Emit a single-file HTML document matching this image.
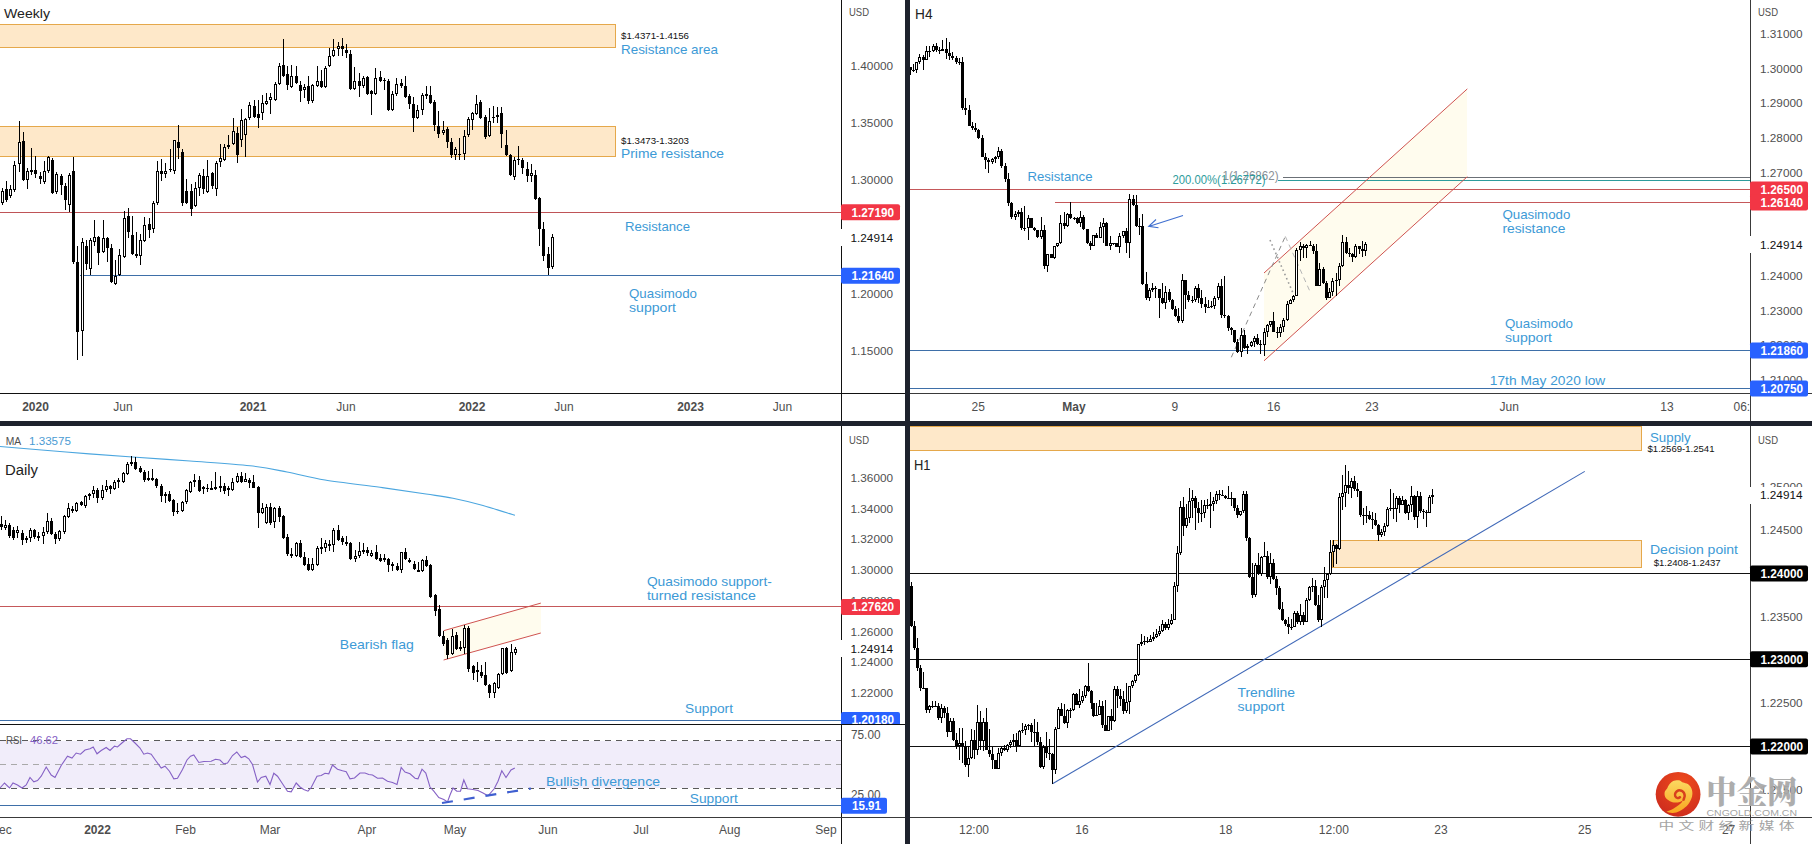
<!DOCTYPE html>
<html lang="en"><head><meta charset="utf-8"><title>GBP/USD multi-timeframe chart</title>
<style>html,body{margin:0;padding:0;background:#fff}body{width:1812px;height:844px;overflow:hidden}svg{display:block}text{white-space:pre}</style></head>
<body>
<svg width="1812" height="844" viewBox="0 0 1812 844" font-family='"Liberation Sans", sans-serif' shape-rendering="crispEdges">
<rect x="0" y="0" width="1812" height="844" fill="#fff" />
<g id="tl">
<rect x="0" y="24" width="616" height="24" fill="#fee8c9" />
<rect x="0" y="24" width="616" height="1" fill="#e5a84b" />
<rect x="0" y="47" width="616" height="1" fill="#e5a84b" />
<rect x="615" y="24" width="1" height="24" fill="#e5a84b" />
<rect x="0" y="126" width="616" height="31" fill="#fee8c9" />
<rect x="0" y="126" width="616" height="1" fill="#e5a84b" />
<rect x="0" y="156" width="616" height="1" fill="#e5a84b" />
<rect x="615" y="126" width="1" height="31" fill="#e5a84b" />
<rect x="0" y="211.5" width="841" height="1" fill="#bf5457" />
<rect x="80" y="274.5" width="761" height="1" fill="#3e6fa8" />
<rect x="2" y="188" width="1" height="17" fill="#000" />
<rect x="1" y="191" width="3" height="12" fill="#000" />
<rect x="2" y="192" width="1" height="10" fill="#fff" />
<rect x="6" y="181" width="1" height="21" fill="#000" />
<rect x="5" y="189" width="3" height="11" fill="#000" />
<rect x="10" y="185" width="1" height="13" fill="#000" />
<rect x="9" y="189" width="3" height="7" fill="#000" />
<rect x="10" y="190" width="1" height="5" fill="#fff" />
<rect x="14" y="161" width="1" height="31" fill="#000" />
<rect x="13" y="165" width="3" height="25" fill="#000" />
<rect x="14" y="166" width="1" height="23" fill="#fff" />
<rect x="19" y="121" width="1" height="51" fill="#000" />
<rect x="18" y="142" width="3" height="22" fill="#000" />
<rect x="19" y="143" width="1" height="20" fill="#fff" />
<rect x="23" y="132" width="1" height="49" fill="#000" />
<rect x="22" y="141" width="3" height="39" fill="#000" />
<rect x="27" y="168" width="1" height="21" fill="#000" />
<rect x="26" y="171" width="3" height="9" fill="#000" />
<rect x="27" y="172" width="1" height="7" fill="#fff" />
<rect x="31" y="148" width="1" height="27" fill="#000" />
<rect x="30" y="170" width="3" height="2" fill="#000" />
<rect x="35" y="156" width="1" height="22" fill="#000" />
<rect x="34" y="170" width="3" height="4" fill="#000" />
<rect x="40" y="172" width="1" height="12" fill="#000" />
<rect x="39" y="176" width="3" height="3" fill="#000" />
<rect x="44" y="161" width="1" height="23" fill="#000" />
<rect x="43" y="171" width="3" height="11" fill="#000" />
<rect x="44" y="172" width="1" height="9" fill="#fff" />
<rect x="48" y="156" width="1" height="17" fill="#000" />
<rect x="47" y="157" width="3" height="14" fill="#000" />
<rect x="48" y="158" width="1" height="12" fill="#fff" />
<rect x="52" y="158" width="1" height="36" fill="#000" />
<rect x="51" y="160" width="3" height="33" fill="#000" />
<rect x="56" y="172" width="1" height="22" fill="#000" />
<rect x="55" y="174" width="3" height="18" fill="#000" />
<rect x="56" y="175" width="1" height="16" fill="#fff" />
<rect x="61" y="174" width="1" height="21" fill="#000" />
<rect x="60" y="176" width="3" height="9" fill="#000" />
<rect x="65" y="183" width="1" height="27" fill="#000" />
<rect x="64" y="186" width="3" height="14" fill="#000" />
<rect x="69" y="173" width="1" height="39" fill="#000" />
<rect x="68" y="175" width="3" height="30" fill="#000" />
<rect x="69" y="176" width="1" height="28" fill="#fff" />
<rect x="73" y="157" width="1" height="107" fill="#000" />
<rect x="72" y="171" width="3" height="91" fill="#000" />
<rect x="77" y="246" width="1" height="114" fill="#000" />
<rect x="76" y="262" width="3" height="70" fill="#000" />
<rect x="82" y="238" width="1" height="118" fill="#000" />
<rect x="81" y="242" width="3" height="89" fill="#000" />
<rect x="82" y="243" width="1" height="87" fill="#fff" />
<rect x="86" y="240" width="1" height="30" fill="#000" />
<rect x="85" y="246" width="3" height="18" fill="#000" />
<rect x="90" y="238" width="1" height="37" fill="#000" />
<rect x="89" y="240" width="3" height="29" fill="#000" />
<rect x="90" y="241" width="1" height="27" fill="#fff" />
<rect x="94" y="220" width="1" height="26" fill="#000" />
<rect x="93" y="237" width="3" height="5" fill="#000" />
<rect x="94" y="238" width="1" height="3" fill="#fff" />
<rect x="98" y="236" width="1" height="29" fill="#000" />
<rect x="97" y="237" width="3" height="16" fill="#000" />
<rect x="103" y="220" width="1" height="33" fill="#000" />
<rect x="102" y="238" width="3" height="14" fill="#000" />
<rect x="103" y="239" width="1" height="12" fill="#fff" />
<rect x="107" y="237" width="1" height="25" fill="#000" />
<rect x="106" y="238" width="3" height="10" fill="#000" />
<rect x="111" y="244" width="1" height="39" fill="#000" />
<rect x="110" y="248" width="3" height="34" fill="#000" />
<rect x="115" y="260" width="1" height="25" fill="#000" />
<rect x="114" y="276" width="3" height="8" fill="#000" />
<rect x="115" y="277" width="1" height="6" fill="#fff" />
<rect x="119" y="249" width="1" height="27" fill="#000" />
<rect x="118" y="255" width="3" height="20" fill="#000" />
<rect x="119" y="256" width="1" height="18" fill="#fff" />
<rect x="124" y="211" width="1" height="47" fill="#000" />
<rect x="123" y="218" width="3" height="39" fill="#000" />
<rect x="124" y="219" width="1" height="37" fill="#fff" />
<rect x="128" y="208" width="1" height="30" fill="#000" />
<rect x="127" y="216" width="3" height="16" fill="#000" />
<rect x="132" y="216" width="1" height="39" fill="#000" />
<rect x="131" y="235" width="3" height="19" fill="#000" />
<rect x="136" y="232" width="1" height="26" fill="#000" />
<rect x="135" y="254" width="3" height="2" fill="#000" />
<rect x="140" y="234" width="1" height="31" fill="#000" />
<rect x="139" y="240" width="3" height="16" fill="#000" />
<rect x="140" y="241" width="1" height="14" fill="#fff" />
<rect x="144" y="217" width="1" height="25" fill="#000" />
<rect x="143" y="225" width="3" height="16" fill="#000" />
<rect x="144" y="226" width="1" height="14" fill="#fff" />
<rect x="149" y="218" width="1" height="20" fill="#000" />
<rect x="148" y="224" width="3" height="6" fill="#000" />
<rect x="153" y="201" width="1" height="32" fill="#000" />
<rect x="152" y="203" width="3" height="26" fill="#000" />
<rect x="153" y="204" width="1" height="24" fill="#fff" />
<rect x="157" y="161" width="1" height="44" fill="#000" />
<rect x="156" y="171" width="3" height="32" fill="#000" />
<rect x="157" y="172" width="1" height="30" fill="#fff" />
<rect x="161" y="159" width="1" height="22" fill="#000" />
<rect x="160" y="171" width="3" height="3" fill="#000" />
<rect x="165" y="163" width="1" height="15" fill="#000" />
<rect x="164" y="171" width="3" height="3" fill="#000" />
<rect x="165" y="172" width="1" height="1" fill="#fff" />
<rect x="170" y="149" width="1" height="23" fill="#000" />
<rect x="169" y="169" width="3" height="1" fill="#000" />
<rect x="174" y="140" width="1" height="34" fill="#000" />
<rect x="173" y="140" width="3" height="31" fill="#000" />
<rect x="174" y="141" width="1" height="29" fill="#fff" />
<rect x="178" y="125" width="1" height="34" fill="#000" />
<rect x="177" y="142" width="3" height="6" fill="#000" />
<rect x="182" y="149" width="1" height="57" fill="#000" />
<rect x="181" y="152" width="3" height="51" fill="#000" />
<rect x="186" y="179" width="1" height="25" fill="#000" />
<rect x="185" y="191" width="3" height="12" fill="#000" />
<rect x="191" y="184" width="1" height="32" fill="#000" />
<rect x="190" y="191" width="3" height="18" fill="#000" />
<rect x="195" y="182" width="1" height="25" fill="#000" />
<rect x="194" y="188" width="3" height="18" fill="#000" />
<rect x="195" y="189" width="1" height="16" fill="#fff" />
<rect x="199" y="173" width="1" height="23" fill="#000" />
<rect x="198" y="175" width="3" height="13" fill="#000" />
<rect x="199" y="176" width="1" height="11" fill="#fff" />
<rect x="203" y="169" width="1" height="25" fill="#000" />
<rect x="202" y="176" width="3" height="13" fill="#000" />
<rect x="207" y="160" width="1" height="33" fill="#000" />
<rect x="206" y="176" width="3" height="16" fill="#000" />
<rect x="207" y="177" width="1" height="14" fill="#fff" />
<rect x="212" y="172" width="1" height="17" fill="#000" />
<rect x="211" y="173" width="3" height="13" fill="#000" />
<rect x="216" y="161" width="1" height="35" fill="#000" />
<rect x="215" y="163" width="3" height="26" fill="#000" />
<rect x="216" y="164" width="1" height="24" fill="#fff" />
<rect x="220" y="144" width="1" height="23" fill="#000" />
<rect x="219" y="158" width="3" height="4" fill="#000" />
<rect x="220" y="159" width="1" height="2" fill="#fff" />
<rect x="224" y="144" width="1" height="17" fill="#000" />
<rect x="223" y="147" width="3" height="13" fill="#000" />
<rect x="224" y="148" width="1" height="11" fill="#fff" />
<rect x="228" y="135" width="1" height="14" fill="#000" />
<rect x="227" y="145" width="3" height="2" fill="#000" />
<rect x="233" y="118" width="1" height="27" fill="#000" />
<rect x="232" y="131" width="3" height="13" fill="#000" />
<rect x="233" y="132" width="1" height="11" fill="#fff" />
<rect x="237" y="127" width="1" height="36" fill="#000" />
<rect x="236" y="133" width="3" height="22" fill="#000" />
<rect x="241" y="109" width="1" height="38" fill="#000" />
<rect x="240" y="120" width="3" height="20" fill="#000" />
<rect x="241" y="121" width="1" height="18" fill="#fff" />
<rect x="245" y="118" width="1" height="39" fill="#000" />
<rect x="244" y="119" width="3" height="16" fill="#000" />
<rect x="245" y="120" width="1" height="14" fill="#fff" />
<rect x="249" y="102" width="1" height="18" fill="#000" />
<rect x="248" y="105" width="3" height="13" fill="#000" />
<rect x="249" y="106" width="1" height="11" fill="#fff" />
<rect x="254" y="100" width="1" height="18" fill="#000" />
<rect x="253" y="106" width="3" height="11" fill="#000" />
<rect x="258" y="100" width="1" height="28" fill="#000" />
<rect x="257" y="114" width="3" height="4" fill="#000" />
<rect x="262" y="95" width="1" height="25" fill="#000" />
<rect x="261" y="103" width="3" height="10" fill="#000" />
<rect x="262" y="104" width="1" height="8" fill="#fff" />
<rect x="266" y="93" width="1" height="12" fill="#000" />
<rect x="265" y="101" width="3" height="3" fill="#000" />
<rect x="266" y="102" width="1" height="1" fill="#fff" />
<rect x="270" y="93" width="1" height="21" fill="#000" />
<rect x="269" y="97" width="3" height="3" fill="#000" />
<rect x="270" y="98" width="1" height="1" fill="#fff" />
<rect x="275" y="82" width="1" height="19" fill="#000" />
<rect x="274" y="84" width="3" height="16" fill="#000" />
<rect x="275" y="85" width="1" height="14" fill="#fff" />
<rect x="279" y="63" width="1" height="22" fill="#000" />
<rect x="278" y="66" width="3" height="18" fill="#000" />
<rect x="279" y="67" width="1" height="16" fill="#fff" />
<rect x="283" y="39" width="1" height="38" fill="#000" />
<rect x="282" y="65" width="3" height="11" fill="#000" />
<rect x="287" y="66" width="1" height="24" fill="#000" />
<rect x="286" y="74" width="3" height="11" fill="#000" />
<rect x="291" y="65" width="1" height="23" fill="#000" />
<rect x="290" y="76" width="3" height="11" fill="#000" />
<rect x="291" y="77" width="1" height="9" fill="#fff" />
<rect x="296" y="66" width="1" height="18" fill="#000" />
<rect x="295" y="76" width="3" height="7" fill="#000" />
<rect x="300" y="81" width="1" height="21" fill="#000" />
<rect x="299" y="85" width="3" height="6" fill="#000" />
<rect x="304" y="84" width="1" height="14" fill="#000" />
<rect x="303" y="87" width="3" height="3" fill="#000" />
<rect x="304" y="88" width="1" height="1" fill="#fff" />
<rect x="308" y="76" width="1" height="28" fill="#000" />
<rect x="307" y="86" width="3" height="15" fill="#000" />
<rect x="312" y="84" width="1" height="19" fill="#000" />
<rect x="311" y="85" width="3" height="16" fill="#000" />
<rect x="312" y="86" width="1" height="14" fill="#fff" />
<rect x="317" y="66" width="1" height="21" fill="#000" />
<rect x="316" y="81" width="3" height="5" fill="#000" />
<rect x="317" y="82" width="1" height="3" fill="#fff" />
<rect x="321" y="70" width="1" height="18" fill="#000" />
<rect x="320" y="81" width="3" height="6" fill="#000" />
<rect x="325" y="66" width="1" height="22" fill="#000" />
<rect x="324" y="68" width="3" height="19" fill="#000" />
<rect x="325" y="69" width="1" height="17" fill="#fff" />
<rect x="329" y="48" width="1" height="19" fill="#000" />
<rect x="328" y="56" width="3" height="10" fill="#000" />
<rect x="329" y="57" width="1" height="8" fill="#fff" />
<rect x="333" y="39" width="1" height="18" fill="#000" />
<rect x="332" y="50" width="3" height="6" fill="#000" />
<rect x="333" y="51" width="1" height="4" fill="#fff" />
<rect x="338" y="42" width="1" height="14" fill="#000" />
<rect x="337" y="46" width="3" height="3" fill="#000" />
<rect x="338" y="47" width="1" height="1" fill="#fff" />
<rect x="342" y="38" width="1" height="18" fill="#000" />
<rect x="341" y="46" width="3" height="3" fill="#000" />
<rect x="346" y="44" width="1" height="14" fill="#000" />
<rect x="345" y="50" width="3" height="3" fill="#000" />
<rect x="350" y="50" width="1" height="40" fill="#000" />
<rect x="349" y="54" width="3" height="35" fill="#000" />
<rect x="354" y="67" width="1" height="23" fill="#000" />
<rect x="353" y="81" width="3" height="8" fill="#000" />
<rect x="354" y="82" width="1" height="6" fill="#fff" />
<rect x="359" y="73" width="1" height="24" fill="#000" />
<rect x="358" y="81" width="3" height="5" fill="#000" />
<rect x="363" y="76" width="1" height="12" fill="#000" />
<rect x="362" y="78" width="3" height="8" fill="#000" />
<rect x="363" y="79" width="1" height="6" fill="#fff" />
<rect x="367" y="76" width="1" height="19" fill="#000" />
<rect x="366" y="77" width="3" height="17" fill="#000" />
<rect x="371" y="90" width="1" height="25" fill="#000" />
<rect x="370" y="91" width="3" height="3" fill="#000" />
<rect x="375" y="68" width="1" height="27" fill="#000" />
<rect x="374" y="78" width="3" height="16" fill="#000" />
<rect x="375" y="79" width="1" height="14" fill="#fff" />
<rect x="380" y="71" width="1" height="11" fill="#000" />
<rect x="379" y="77" width="3" height="4" fill="#000" />
<rect x="384" y="78" width="1" height="12" fill="#000" />
<rect x="383" y="80" width="3" height="1" fill="#000" />
<rect x="388" y="79" width="1" height="32" fill="#000" />
<rect x="387" y="81" width="3" height="29" fill="#000" />
<rect x="392" y="91" width="1" height="20" fill="#000" />
<rect x="391" y="94" width="3" height="16" fill="#000" />
<rect x="392" y="95" width="1" height="14" fill="#fff" />
<rect x="396" y="78" width="1" height="18" fill="#000" />
<rect x="395" y="84" width="3" height="10" fill="#000" />
<rect x="396" y="85" width="1" height="8" fill="#fff" />
<rect x="401" y="79" width="1" height="9" fill="#000" />
<rect x="400" y="83" width="3" height="3" fill="#000" />
<rect x="405" y="76" width="1" height="22" fill="#000" />
<rect x="404" y="86" width="3" height="11" fill="#000" />
<rect x="409" y="94" width="1" height="15" fill="#000" />
<rect x="408" y="96" width="3" height="8" fill="#000" />
<rect x="413" y="97" width="1" height="35" fill="#000" />
<rect x="412" y="104" width="3" height="14" fill="#000" />
<rect x="417" y="105" width="1" height="14" fill="#000" />
<rect x="416" y="110" width="3" height="8" fill="#000" />
<rect x="417" y="111" width="1" height="6" fill="#fff" />
<rect x="422" y="93" width="1" height="22" fill="#000" />
<rect x="421" y="95" width="3" height="15" fill="#000" />
<rect x="422" y="96" width="1" height="13" fill="#fff" />
<rect x="426" y="86" width="1" height="13" fill="#000" />
<rect x="425" y="94" width="3" height="2" fill="#000" />
<rect x="430" y="86" width="1" height="18" fill="#000" />
<rect x="429" y="95" width="3" height="8" fill="#000" />
<rect x="434" y="100" width="1" height="31" fill="#000" />
<rect x="433" y="102" width="3" height="23" fill="#000" />
<rect x="438" y="111" width="1" height="27" fill="#000" />
<rect x="437" y="126" width="3" height="8" fill="#000" />
<rect x="443" y="121" width="1" height="14" fill="#000" />
<rect x="442" y="130" width="3" height="3" fill="#000" />
<rect x="443" y="131" width="1" height="1" fill="#fff" />
<rect x="447" y="127" width="1" height="21" fill="#000" />
<rect x="446" y="129" width="3" height="13" fill="#000" />
<rect x="451" y="138" width="1" height="20" fill="#000" />
<rect x="450" y="142" width="3" height="13" fill="#000" />
<rect x="455" y="147" width="1" height="13" fill="#000" />
<rect x="454" y="149" width="3" height="6" fill="#000" />
<rect x="455" y="150" width="1" height="4" fill="#fff" />
<rect x="459" y="138" width="1" height="22" fill="#000" />
<rect x="458" y="154" width="3" height="1" fill="#000" />
<rect x="464" y="130" width="1" height="30" fill="#000" />
<rect x="463" y="136" width="3" height="18" fill="#000" />
<rect x="464" y="137" width="1" height="16" fill="#fff" />
<rect x="468" y="117" width="1" height="20" fill="#000" />
<rect x="467" y="119" width="3" height="16" fill="#000" />
<rect x="468" y="120" width="1" height="14" fill="#fff" />
<rect x="472" y="112" width="1" height="18" fill="#000" />
<rect x="471" y="113" width="3" height="7" fill="#000" />
<rect x="472" y="114" width="1" height="5" fill="#fff" />
<rect x="476" y="95" width="1" height="20" fill="#000" />
<rect x="475" y="104" width="3" height="10" fill="#000" />
<rect x="476" y="105" width="1" height="8" fill="#fff" />
<rect x="480" y="100" width="1" height="19" fill="#000" />
<rect x="479" y="102" width="3" height="16" fill="#000" />
<rect x="485" y="115" width="1" height="24" fill="#000" />
<rect x="484" y="117" width="3" height="20" fill="#000" />
<rect x="489" y="108" width="1" height="29" fill="#000" />
<rect x="488" y="121" width="3" height="15" fill="#000" />
<rect x="489" y="122" width="1" height="13" fill="#fff" />
<rect x="493" y="106" width="1" height="17" fill="#000" />
<rect x="492" y="117" width="3" height="1" fill="#000" />
<rect x="497" y="107" width="1" height="16" fill="#000" />
<rect x="496" y="115" width="3" height="2" fill="#000" />
<rect x="501" y="107" width="1" height="41" fill="#000" />
<rect x="500" y="113" width="3" height="21" fill="#000" />
<rect x="506" y="130" width="1" height="26" fill="#000" />
<rect x="505" y="145" width="3" height="10" fill="#000" />
<rect x="510" y="154" width="1" height="22" fill="#000" />
<rect x="509" y="155" width="3" height="20" fill="#000" />
<rect x="514" y="157" width="1" height="23" fill="#000" />
<rect x="513" y="160" width="3" height="17" fill="#000" />
<rect x="514" y="161" width="1" height="15" fill="#fff" />
<rect x="518" y="146" width="1" height="19" fill="#000" />
<rect x="517" y="159" width="3" height="1" fill="#000" />
<rect x="522" y="158" width="1" height="16" fill="#000" />
<rect x="521" y="160" width="3" height="8" fill="#000" />
<rect x="527" y="162" width="1" height="20" fill="#000" />
<rect x="526" y="169" width="3" height="7" fill="#000" />
<rect x="531" y="164" width="1" height="18" fill="#000" />
<rect x="530" y="173" width="3" height="3" fill="#000" />
<rect x="531" y="174" width="1" height="1" fill="#fff" />
<rect x="535" y="170" width="1" height="30" fill="#000" />
<rect x="534" y="175" width="3" height="24" fill="#000" />
<rect x="539" y="197" width="1" height="49" fill="#000" />
<rect x="538" y="198" width="3" height="31" fill="#000" />
<rect x="543" y="222" width="1" height="39" fill="#000" />
<rect x="542" y="229" width="3" height="27" fill="#000" />
<rect x="548" y="247" width="1" height="28" fill="#000" />
<rect x="547" y="254" width="3" height="14" fill="#000" />
<rect x="552" y="234" width="1" height="35" fill="#000" />
<rect x="551" y="237" width="3" height="30" fill="#000" />
<rect x="552" y="238" width="1" height="28" fill="#fff" />
<text x="621" y="38.6" font-size="9.5" fill="#111" font-weight="normal" text-anchor="start" textLength="68" lengthAdjust="spacingAndGlyphs" >$1.4371-1.4156</text>
<text x="621" y="53.6" font-size="13" fill="#3d9ad6" font-weight="normal" text-anchor="start" textLength="97" lengthAdjust="spacingAndGlyphs" >Resistance area</text>
<text x="621" y="143.8" font-size="9.5" fill="#111" font-weight="normal" text-anchor="start" textLength="68" lengthAdjust="spacingAndGlyphs" >$1.3473-1.3203</text>
<text x="621" y="158" font-size="13" fill="#3d9ad6" font-weight="normal" text-anchor="start" textLength="103" lengthAdjust="spacingAndGlyphs" >Prime resistance</text>
<text x="625" y="231" font-size="13" fill="#3d9ad6" font-weight="normal" text-anchor="start" textLength="65" lengthAdjust="spacingAndGlyphs" >Resistance</text>
<text x="629" y="298" font-size="13" fill="#3d9ad6" font-weight="normal" text-anchor="start" textLength="68" lengthAdjust="spacingAndGlyphs" >Quasimodo</text>
<text x="629" y="312" font-size="13" fill="#3d9ad6" font-weight="normal" text-anchor="start" textLength="47" lengthAdjust="spacingAndGlyphs" >support</text>
<text x="4" y="18" font-size="13.5" fill="#222" font-weight="normal" text-anchor="start" textLength="46" lengthAdjust="spacingAndGlyphs" >Weekly</text>
</g>
<rect x="841" y="0" width="1" height="421" fill="#111" />
<rect x="0" y="392.8" width="905" height="1.4" fill="#111" />
<text x="849" y="15.5" font-size="11" fill="#4f4f4f" font-weight="normal" text-anchor="start" textLength="20" lengthAdjust="spacingAndGlyphs" >USD</text>
<text x="850.5" y="69.6" font-size="11.5" fill="#4f4f4f" font-weight="normal" text-anchor="start" textLength="42.5" lengthAdjust="spacingAndGlyphs" >1.40000</text>
<text x="850.5" y="126.6" font-size="11.5" fill="#4f4f4f" font-weight="normal" text-anchor="start" textLength="42.5" lengthAdjust="spacingAndGlyphs" >1.35000</text>
<text x="850.5" y="183.6" font-size="11.5" fill="#4f4f4f" font-weight="normal" text-anchor="start" textLength="42.5" lengthAdjust="spacingAndGlyphs" >1.30000</text>
<text x="850.5" y="297.6" font-size="11.5" fill="#4f4f4f" font-weight="normal" text-anchor="start" textLength="42.5" lengthAdjust="spacingAndGlyphs" >1.20000</text>
<text x="850.5" y="354.6" font-size="11.5" fill="#4f4f4f" font-weight="normal" text-anchor="start" textLength="42.5" lengthAdjust="spacingAndGlyphs" >1.15000</text>
<rect x="841" y="204.3" width="59" height="16" rx="2" ry="2" fill="#f23645" shape-rendering="auto"/>
<text x="851.5" y="216.6" font-size="12" fill="#fff" font-weight="bold" text-anchor="start" textLength="42.5" lengthAdjust="spacingAndGlyphs" >1.27190</text>
<rect x="839" y="229.2" width="62" height="17" fill="#fff" />
<text x="850.5" y="241.8" font-size="11.5" fill="#111" font-weight="normal" text-anchor="start" textLength="42.5" lengthAdjust="spacingAndGlyphs" >1.24914</text>
<rect x="841" y="267.8" width="59" height="16" rx="2" ry="2" fill="#2962ff" shape-rendering="auto"/>
<text x="851.5" y="280.1" font-size="12" fill="#fff" font-weight="bold" text-anchor="start" textLength="42.5" lengthAdjust="spacingAndGlyphs" >1.21640</text>
<text x="35.5" y="411" font-size="12" fill="#4d4d4d" font-weight="bold" text-anchor="middle" >2020</text>
<text x="123" y="411" font-size="12" fill="#4f4f4f" font-weight="normal" text-anchor="middle" >Jun</text>
<text x="253" y="411" font-size="12" fill="#4d4d4d" font-weight="bold" text-anchor="middle" >2021</text>
<text x="346" y="411" font-size="12" fill="#4f4f4f" font-weight="normal" text-anchor="middle" >Jun</text>
<text x="472" y="411" font-size="12" fill="#4d4d4d" font-weight="bold" text-anchor="middle" >2022</text>
<text x="564" y="411" font-size="12" fill="#4f4f4f" font-weight="normal" text-anchor="middle" >Jun</text>
<text x="690.5" y="411" font-size="12" fill="#4d4d4d" font-weight="bold" text-anchor="middle" >2023</text>
<text x="782.5" y="411" font-size="12" fill="#4f4f4f" font-weight="normal" text-anchor="middle" >Jun</text>
<g id="tr">
<polygon points="1264,273 1467.3,88.9 1467.3,176.7 1264,360.8" fill="#fffcee"/>
<rect x="1283" y="176.9" width="467" height="1" fill="#6b7076" />
<rect x="1278" y="179.9" width="472" height="1" fill="#2d9c9c" />
<rect x="910" y="189.4" width="840" height="1" fill="#c5585a" />
<rect x="1054.5" y="201.8" width="695.5" height="1" fill="#c5585a" />
<rect x="910" y="350.1" width="840" height="1" fill="#3e6fa8" />
<rect x="910" y="388.3" width="840" height="1" fill="#3e6fa8" />
<line x1="1264" y1="273" x2="1467.3" y2="88.9" stroke="#cf5350" stroke-width="1" shape-rendering="auto"/>
<line x1="1264" y1="360.8" x2="1467.3" y2="176.7" stroke="#cf5350" stroke-width="1" shape-rendering="auto"/>
<line x1="1231.3" y1="357.3" x2="1285.3" y2="236.4" stroke="#8a8a8a" stroke-width="1" stroke-dasharray="5 4" shape-rendering="auto"/>
<line x1="1285.3" y1="236.4" x2="1310" y2="291.5" stroke="#b5b5b5" stroke-width="1" stroke-dasharray="5 4" shape-rendering="auto"/>
<line x1="1270" y1="240" x2="1293" y2="293" stroke="#9a9a9a" stroke-width="1.6" stroke-dasharray="1.6 3" shape-rendering="auto"/>
<rect x="910" y="67" width="1" height="8" fill="#000" />
<rect x="909" y="67" width="3" height="3" fill="#000" />
<rect x="913" y="64" width="1" height="8" fill="#000" />
<rect x="912" y="70" width="3" height="1" fill="#000" />
<rect x="916" y="62" width="1" height="11" fill="#000" />
<rect x="915" y="62" width="3" height="8" fill="#000" />
<rect x="916" y="63" width="1" height="6" fill="#fff" />
<rect x="919" y="54" width="1" height="10" fill="#000" />
<rect x="918" y="57" width="3" height="5" fill="#000" />
<rect x="919" y="58" width="1" height="3" fill="#fff" />
<rect x="923" y="55" width="1" height="15" fill="#000" />
<rect x="922" y="57" width="3" height="3" fill="#000" />
<rect x="926" y="46" width="1" height="14" fill="#000" />
<rect x="925" y="51" width="3" height="9" fill="#000" />
<rect x="926" y="52" width="1" height="7" fill="#fff" />
<rect x="929" y="46" width="1" height="11" fill="#000" />
<rect x="928" y="51" width="3" height="1" fill="#000" />
<rect x="933" y="44" width="1" height="8" fill="#000" />
<rect x="932" y="46" width="3" height="5" fill="#000" />
<rect x="933" y="47" width="1" height="3" fill="#fff" />
<rect x="936" y="43" width="1" height="9" fill="#000" />
<rect x="935" y="46" width="3" height="4" fill="#000" />
<rect x="939" y="47" width="1" height="7" fill="#000" />
<rect x="938" y="50" width="3" height="1" fill="#000" />
<rect x="942" y="40" width="1" height="11" fill="#000" />
<rect x="941" y="49" width="3" height="2" fill="#000" />
<rect x="946" y="38" width="1" height="21" fill="#000" />
<rect x="945" y="49" width="3" height="4" fill="#000" />
<rect x="949" y="42" width="1" height="18" fill="#000" />
<rect x="948" y="53" width="3" height="3" fill="#000" />
<rect x="952" y="52" width="1" height="8" fill="#000" />
<rect x="951" y="56" width="3" height="2" fill="#000" />
<rect x="956" y="56" width="1" height="8" fill="#000" />
<rect x="955" y="58" width="3" height="4" fill="#000" />
<rect x="959" y="58" width="1" height="7" fill="#000" />
<rect x="958" y="62" width="3" height="1" fill="#000" />
<rect x="962" y="57" width="1" height="53" fill="#000" />
<rect x="961" y="62" width="3" height="46" fill="#000" />
<rect x="965" y="98" width="1" height="17" fill="#000" />
<rect x="964" y="108" width="3" height="2" fill="#000" />
<rect x="969" y="105" width="1" height="21" fill="#000" />
<rect x="968" y="110" width="3" height="16" fill="#000" />
<rect x="972" y="122" width="1" height="8" fill="#000" />
<rect x="971" y="126" width="3" height="2" fill="#000" />
<rect x="975" y="123" width="1" height="9" fill="#000" />
<rect x="974" y="128" width="3" height="2" fill="#000" />
<rect x="978" y="129" width="1" height="10" fill="#000" />
<rect x="977" y="130" width="3" height="8" fill="#000" />
<rect x="982" y="135" width="1" height="22" fill="#000" />
<rect x="981" y="138" width="3" height="19" fill="#000" />
<rect x="985" y="153" width="1" height="16" fill="#000" />
<rect x="984" y="157" width="3" height="3" fill="#000" />
<rect x="988" y="158" width="1" height="15" fill="#000" />
<rect x="987" y="160" width="3" height="2" fill="#000" />
<rect x="992" y="158" width="1" height="6" fill="#000" />
<rect x="991" y="159" width="3" height="3" fill="#000" />
<rect x="992" y="160" width="1" height="1" fill="#fff" />
<rect x="995" y="156" width="1" height="7" fill="#000" />
<rect x="994" y="157" width="3" height="2" fill="#000" />
<rect x="998" y="147" width="1" height="12" fill="#000" />
<rect x="997" y="151" width="3" height="6" fill="#000" />
<rect x="998" y="152" width="1" height="4" fill="#fff" />
<rect x="1001" y="149" width="1" height="19" fill="#000" />
<rect x="1000" y="151" width="3" height="15" fill="#000" />
<rect x="1005" y="163" width="1" height="19" fill="#000" />
<rect x="1004" y="166" width="3" height="13" fill="#000" />
<rect x="1008" y="173" width="1" height="33" fill="#000" />
<rect x="1007" y="179" width="3" height="24" fill="#000" />
<rect x="1011" y="202" width="1" height="17" fill="#000" />
<rect x="1010" y="203" width="3" height="14" fill="#000" />
<rect x="1015" y="211" width="1" height="9" fill="#000" />
<rect x="1014" y="214" width="3" height="3" fill="#000" />
<rect x="1015" y="215" width="1" height="1" fill="#fff" />
<rect x="1018" y="210" width="1" height="7" fill="#000" />
<rect x="1017" y="212" width="3" height="2" fill="#000" />
<rect x="1021" y="208" width="1" height="22" fill="#000" />
<rect x="1020" y="212" width="3" height="16" fill="#000" />
<rect x="1024" y="206" width="1" height="25" fill="#000" />
<rect x="1023" y="228" width="3" height="1" fill="#000" />
<rect x="1028" y="215" width="1" height="25" fill="#000" />
<rect x="1027" y="218" width="3" height="10" fill="#000" />
<rect x="1028" y="219" width="1" height="8" fill="#fff" />
<rect x="1031" y="218" width="1" height="10" fill="#000" />
<rect x="1030" y="218" width="3" height="10" fill="#000" />
<rect x="1034" y="227" width="1" height="4" fill="#000" />
<rect x="1033" y="228" width="3" height="2" fill="#000" />
<rect x="1037" y="230" width="1" height="8" fill="#000" />
<rect x="1036" y="230" width="3" height="7" fill="#000" />
<rect x="1041" y="217" width="1" height="22" fill="#000" />
<rect x="1040" y="230" width="3" height="7" fill="#000" />
<rect x="1041" y="231" width="1" height="5" fill="#fff" />
<rect x="1044" y="225" width="1" height="44" fill="#000" />
<rect x="1043" y="230" width="3" height="36" fill="#000" />
<rect x="1047" y="254" width="1" height="18" fill="#000" />
<rect x="1046" y="254" width="3" height="12" fill="#000" />
<rect x="1047" y="255" width="1" height="10" fill="#fff" />
<rect x="1051" y="254" width="1" height="4" fill="#000" />
<rect x="1050" y="254" width="3" height="4" fill="#000" />
<rect x="1054" y="246" width="1" height="13" fill="#000" />
<rect x="1053" y="246" width="3" height="12" fill="#000" />
<rect x="1054" y="247" width="1" height="10" fill="#fff" />
<rect x="1057" y="243" width="1" height="4" fill="#000" />
<rect x="1056" y="243" width="3" height="3" fill="#000" />
<rect x="1057" y="244" width="1" height="1" fill="#fff" />
<rect x="1060" y="215" width="1" height="29" fill="#000" />
<rect x="1059" y="223" width="3" height="20" fill="#000" />
<rect x="1060" y="224" width="1" height="18" fill="#fff" />
<rect x="1064" y="212" width="1" height="17" fill="#000" />
<rect x="1063" y="223" width="3" height="3" fill="#000" />
<rect x="1067" y="213" width="1" height="14" fill="#000" />
<rect x="1066" y="214" width="3" height="12" fill="#000" />
<rect x="1067" y="215" width="1" height="10" fill="#fff" />
<rect x="1070" y="202" width="1" height="17" fill="#000" />
<rect x="1069" y="214" width="3" height="4" fill="#000" />
<rect x="1074" y="217" width="1" height="3" fill="#000" />
<rect x="1073" y="218" width="3" height="1" fill="#000" />
<rect x="1077" y="217" width="1" height="7" fill="#000" />
<rect x="1076" y="218" width="3" height="5" fill="#000" />
<rect x="1080" y="211" width="1" height="16" fill="#000" />
<rect x="1079" y="217" width="3" height="6" fill="#000" />
<rect x="1080" y="218" width="1" height="4" fill="#fff" />
<rect x="1083" y="215" width="1" height="15" fill="#000" />
<rect x="1082" y="217" width="3" height="12" fill="#000" />
<rect x="1087" y="229" width="1" height="15" fill="#000" />
<rect x="1086" y="229" width="3" height="14" fill="#000" />
<rect x="1090" y="241" width="1" height="9" fill="#000" />
<rect x="1089" y="243" width="3" height="3" fill="#000" />
<rect x="1093" y="235" width="1" height="11" fill="#000" />
<rect x="1092" y="235" width="3" height="11" fill="#000" />
<rect x="1093" y="236" width="1" height="9" fill="#fff" />
<rect x="1096" y="233" width="1" height="5" fill="#000" />
<rect x="1095" y="235" width="3" height="3" fill="#000" />
<rect x="1100" y="222" width="1" height="16" fill="#000" />
<rect x="1099" y="227" width="3" height="11" fill="#000" />
<rect x="1100" y="228" width="1" height="9" fill="#fff" />
<rect x="1103" y="218" width="1" height="25" fill="#000" />
<rect x="1102" y="223" width="3" height="4" fill="#000" />
<rect x="1103" y="224" width="1" height="2" fill="#fff" />
<rect x="1106" y="222" width="1" height="24" fill="#000" />
<rect x="1105" y="223" width="3" height="23" fill="#000" />
<rect x="1110" y="236" width="1" height="14" fill="#000" />
<rect x="1109" y="243" width="3" height="3" fill="#000" />
<rect x="1110" y="244" width="1" height="1" fill="#fff" />
<rect x="1113" y="243" width="1" height="2" fill="#000" />
<rect x="1112" y="243" width="3" height="1" fill="#000" />
<rect x="1116" y="243" width="1" height="4" fill="#000" />
<rect x="1115" y="243" width="3" height="4" fill="#000" />
<rect x="1119" y="233" width="1" height="20" fill="#000" />
<rect x="1118" y="236" width="3" height="11" fill="#000" />
<rect x="1119" y="237" width="1" height="9" fill="#fff" />
<rect x="1123" y="231" width="1" height="7" fill="#000" />
<rect x="1122" y="231" width="3" height="5" fill="#000" />
<rect x="1123" y="232" width="1" height="3" fill="#fff" />
<rect x="1126" y="228" width="1" height="25" fill="#000" />
<rect x="1125" y="231" width="3" height="12" fill="#000" />
<rect x="1129" y="194" width="1" height="64" fill="#000" />
<rect x="1128" y="199" width="3" height="44" fill="#000" />
<rect x="1129" y="200" width="1" height="42" fill="#fff" />
<rect x="1133" y="195" width="1" height="11" fill="#000" />
<rect x="1132" y="199" width="3" height="6" fill="#000" />
<rect x="1136" y="195" width="1" height="32" fill="#000" />
<rect x="1135" y="205" width="3" height="21" fill="#000" />
<rect x="1139" y="218" width="1" height="17" fill="#000" />
<rect x="1138" y="226" width="3" height="1" fill="#000" />
<rect x="1142" y="214" width="1" height="71" fill="#000" />
<rect x="1141" y="226" width="3" height="58" fill="#000" />
<rect x="1146" y="272" width="1" height="28" fill="#000" />
<rect x="1145" y="284" width="3" height="14" fill="#000" />
<rect x="1149" y="288" width="1" height="13" fill="#000" />
<rect x="1148" y="290" width="3" height="8" fill="#000" />
<rect x="1149" y="291" width="1" height="6" fill="#fff" />
<rect x="1152" y="283" width="1" height="9" fill="#000" />
<rect x="1151" y="288" width="3" height="2" fill="#000" />
<rect x="1155" y="286" width="1" height="12" fill="#000" />
<rect x="1154" y="288" width="3" height="1" fill="#000" />
<rect x="1159" y="289" width="1" height="29" fill="#000" />
<rect x="1158" y="289" width="3" height="9" fill="#000" />
<rect x="1162" y="283" width="1" height="21" fill="#000" />
<rect x="1161" y="298" width="3" height="5" fill="#000" />
<rect x="1165" y="286" width="1" height="23" fill="#000" />
<rect x="1164" y="292" width="3" height="11" fill="#000" />
<rect x="1165" y="293" width="1" height="9" fill="#fff" />
<rect x="1169" y="289" width="1" height="13" fill="#000" />
<rect x="1168" y="292" width="3" height="8" fill="#000" />
<rect x="1172" y="299" width="1" height="11" fill="#000" />
<rect x="1171" y="300" width="3" height="9" fill="#000" />
<rect x="1175" y="306" width="1" height="11" fill="#000" />
<rect x="1174" y="309" width="3" height="7" fill="#000" />
<rect x="1178" y="308" width="1" height="15" fill="#000" />
<rect x="1177" y="316" width="3" height="5" fill="#000" />
<rect x="1182" y="274" width="1" height="49" fill="#000" />
<rect x="1181" y="280" width="3" height="41" fill="#000" />
<rect x="1182" y="281" width="1" height="39" fill="#fff" />
<rect x="1185" y="280" width="1" height="29" fill="#000" />
<rect x="1184" y="280" width="3" height="15" fill="#000" />
<rect x="1188" y="291" width="1" height="11" fill="#000" />
<rect x="1187" y="295" width="3" height="5" fill="#000" />
<rect x="1192" y="296" width="1" height="7" fill="#000" />
<rect x="1191" y="300" width="3" height="1" fill="#000" />
<rect x="1195" y="286" width="1" height="16" fill="#000" />
<rect x="1194" y="288" width="3" height="12" fill="#000" />
<rect x="1195" y="289" width="1" height="10" fill="#fff" />
<rect x="1198" y="284" width="1" height="19" fill="#000" />
<rect x="1197" y="288" width="3" height="10" fill="#000" />
<rect x="1201" y="290" width="1" height="18" fill="#000" />
<rect x="1200" y="298" width="3" height="6" fill="#000" />
<rect x="1205" y="297" width="1" height="16" fill="#000" />
<rect x="1204" y="304" width="3" height="3" fill="#000" />
<rect x="1208" y="300" width="1" height="8" fill="#000" />
<rect x="1207" y="307" width="3" height="1" fill="#000" />
<rect x="1211" y="301" width="1" height="7" fill="#000" />
<rect x="1210" y="306" width="3" height="1" fill="#000" />
<rect x="1214" y="296" width="1" height="13" fill="#000" />
<rect x="1213" y="298" width="3" height="8" fill="#000" />
<rect x="1214" y="299" width="1" height="6" fill="#fff" />
<rect x="1218" y="283" width="1" height="17" fill="#000" />
<rect x="1217" y="286" width="3" height="12" fill="#000" />
<rect x="1218" y="287" width="1" height="10" fill="#fff" />
<rect x="1221" y="279" width="1" height="39" fill="#000" />
<rect x="1220" y="286" width="3" height="29" fill="#000" />
<rect x="1224" y="276" width="1" height="42" fill="#000" />
<rect x="1223" y="315" width="3" height="1" fill="#000" />
<rect x="1228" y="315" width="1" height="16" fill="#000" />
<rect x="1227" y="316" width="3" height="12" fill="#000" />
<rect x="1231" y="327" width="1" height="8" fill="#000" />
<rect x="1230" y="328" width="3" height="2" fill="#000" />
<rect x="1234" y="330" width="1" height="13" fill="#000" />
<rect x="1233" y="330" width="3" height="12" fill="#000" />
<rect x="1237" y="339" width="1" height="14" fill="#000" />
<rect x="1236" y="342" width="3" height="10" fill="#000" />
<rect x="1241" y="328" width="1" height="29" fill="#000" />
<rect x="1240" y="335" width="3" height="17" fill="#000" />
<rect x="1241" y="336" width="1" height="15" fill="#fff" />
<rect x="1244" y="330" width="1" height="19" fill="#000" />
<rect x="1243" y="335" width="3" height="13" fill="#000" />
<rect x="1247" y="344" width="1" height="10" fill="#000" />
<rect x="1246" y="346" width="3" height="2" fill="#000" />
<rect x="1251" y="341" width="1" height="6" fill="#000" />
<rect x="1250" y="342" width="3" height="4" fill="#000" />
<rect x="1251" y="343" width="1" height="2" fill="#fff" />
<rect x="1254" y="336" width="1" height="11" fill="#000" />
<rect x="1253" y="338" width="3" height="4" fill="#000" />
<rect x="1254" y="339" width="1" height="2" fill="#fff" />
<rect x="1257" y="334" width="1" height="11" fill="#000" />
<rect x="1256" y="338" width="3" height="6" fill="#000" />
<rect x="1260" y="340" width="1" height="14" fill="#000" />
<rect x="1259" y="344" width="3" height="1" fill="#000" />
<rect x="1264" y="328" width="1" height="28" fill="#000" />
<rect x="1263" y="332" width="3" height="13" fill="#000" />
<rect x="1264" y="333" width="1" height="11" fill="#fff" />
<rect x="1267" y="324" width="1" height="13" fill="#000" />
<rect x="1266" y="325" width="3" height="7" fill="#000" />
<rect x="1267" y="326" width="1" height="5" fill="#fff" />
<rect x="1270" y="321" width="1" height="6" fill="#000" />
<rect x="1269" y="321" width="3" height="4" fill="#000" />
<rect x="1270" y="322" width="1" height="2" fill="#fff" />
<rect x="1273" y="312" width="1" height="20" fill="#000" />
<rect x="1272" y="321" width="3" height="11" fill="#000" />
<rect x="1277" y="327" width="1" height="11" fill="#000" />
<rect x="1276" y="332" width="3" height="1" fill="#000" />
<rect x="1280" y="324" width="1" height="13" fill="#000" />
<rect x="1279" y="327" width="3" height="6" fill="#000" />
<rect x="1280" y="328" width="1" height="4" fill="#fff" />
<rect x="1283" y="318" width="1" height="14" fill="#000" />
<rect x="1282" y="320" width="3" height="7" fill="#000" />
<rect x="1283" y="321" width="1" height="5" fill="#fff" />
<rect x="1287" y="301" width="1" height="20" fill="#000" />
<rect x="1286" y="304" width="3" height="16" fill="#000" />
<rect x="1287" y="305" width="1" height="14" fill="#fff" />
<rect x="1290" y="299" width="1" height="5" fill="#000" />
<rect x="1289" y="300" width="3" height="4" fill="#000" />
<rect x="1290" y="301" width="1" height="2" fill="#fff" />
<rect x="1293" y="295" width="1" height="7" fill="#000" />
<rect x="1292" y="296" width="3" height="4" fill="#000" />
<rect x="1293" y="297" width="1" height="2" fill="#fff" />
<rect x="1296" y="248" width="1" height="48" fill="#000" />
<rect x="1295" y="250" width="3" height="46" fill="#000" />
<rect x="1296" y="251" width="1" height="44" fill="#fff" />
<rect x="1300" y="242" width="1" height="19" fill="#000" />
<rect x="1299" y="246" width="3" height="4" fill="#000" />
<rect x="1300" y="247" width="1" height="2" fill="#fff" />
<rect x="1303" y="244" width="1" height="14" fill="#000" />
<rect x="1302" y="246" width="3" height="2" fill="#000" />
<rect x="1306" y="244" width="1" height="14" fill="#000" />
<rect x="1305" y="245" width="3" height="3" fill="#000" />
<rect x="1306" y="246" width="1" height="1" fill="#fff" />
<rect x="1310" y="241" width="1" height="5" fill="#000" />
<rect x="1309" y="245" width="3" height="1" fill="#000" />
<rect x="1313" y="244" width="1" height="10" fill="#000" />
<rect x="1312" y="246" width="3" height="5" fill="#000" />
<rect x="1316" y="244" width="1" height="42" fill="#000" />
<rect x="1315" y="251" width="3" height="35" fill="#000" />
<rect x="1319" y="263" width="1" height="23" fill="#000" />
<rect x="1318" y="269" width="3" height="17" fill="#000" />
<rect x="1319" y="270" width="1" height="15" fill="#fff" />
<rect x="1323" y="267" width="1" height="17" fill="#000" />
<rect x="1322" y="269" width="3" height="14" fill="#000" />
<rect x="1326" y="281" width="1" height="19" fill="#000" />
<rect x="1325" y="283" width="3" height="15" fill="#000" />
<rect x="1329" y="288" width="1" height="10" fill="#000" />
<rect x="1328" y="292" width="3" height="6" fill="#000" />
<rect x="1329" y="293" width="1" height="4" fill="#fff" />
<rect x="1332" y="278" width="1" height="18" fill="#000" />
<rect x="1331" y="281" width="3" height="11" fill="#000" />
<rect x="1332" y="282" width="1" height="9" fill="#fff" />
<rect x="1336" y="273" width="1" height="23" fill="#000" />
<rect x="1335" y="280" width="3" height="1" fill="#000" />
<rect x="1339" y="263" width="1" height="23" fill="#000" />
<rect x="1338" y="266" width="3" height="14" fill="#000" />
<rect x="1339" y="267" width="1" height="12" fill="#fff" />
<rect x="1342" y="235" width="1" height="32" fill="#000" />
<rect x="1341" y="242" width="3" height="24" fill="#000" />
<rect x="1342" y="243" width="1" height="22" fill="#fff" />
<rect x="1346" y="237" width="1" height="17" fill="#000" />
<rect x="1345" y="242" width="3" height="11" fill="#000" />
<rect x="1349" y="248" width="1" height="9" fill="#000" />
<rect x="1348" y="253" width="3" height="1" fill="#000" />
<rect x="1352" y="253" width="1" height="9" fill="#000" />
<rect x="1351" y="254" width="3" height="3" fill="#000" />
<rect x="1355" y="244" width="1" height="14" fill="#000" />
<rect x="1354" y="246" width="3" height="11" fill="#000" />
<rect x="1355" y="247" width="1" height="9" fill="#fff" />
<rect x="1359" y="246" width="1" height="8" fill="#000" />
<rect x="1358" y="246" width="3" height="3" fill="#000" />
<rect x="1362" y="241" width="1" height="16" fill="#000" />
<rect x="1361" y="249" width="3" height="2" fill="#000" />
<rect x="1365" y="242" width="1" height="14" fill="#000" />
<rect x="1364" y="244" width="3" height="7" fill="#000" />
<rect x="1365" y="245" width="1" height="5" fill="#fff" />
<g stroke="#3f6fd0" stroke-width="1.1" fill="none" shape-rendering="auto"><path d="M1183,215.4 L1148.7,226.4 M1156,219.5 L1148.7,226.4 L1158.5,227.8"/></g>
<text x="1027.5" y="180.5" font-size="13" fill="#3d9ad6" font-weight="normal" text-anchor="start" textLength="65" lengthAdjust="spacingAndGlyphs" >Resistance</text>
<text x="1222.5" y="180.3" font-size="12" fill="#8a8f96" font-weight="normal" text-anchor="start" textLength="56" lengthAdjust="spacingAndGlyphs" >1(1.26862)</text>
<text x="1172.5" y="183.8" font-size="12" fill="#2d9c9c" font-weight="normal" text-anchor="start" textLength="93" lengthAdjust="spacingAndGlyphs" >200.00%(1.26772)</text>
<text x="1502.4" y="218.6" font-size="13" fill="#3d9ad6" font-weight="normal" text-anchor="start" textLength="68" lengthAdjust="spacingAndGlyphs" >Quasimodo</text>
<text x="1502.4" y="232.5" font-size="13" fill="#3d9ad6" font-weight="normal" text-anchor="start" textLength="63" lengthAdjust="spacingAndGlyphs" >resistance</text>
<text x="1505" y="328" font-size="13" fill="#3d9ad6" font-weight="normal" text-anchor="start" textLength="68" lengthAdjust="spacingAndGlyphs" >Quasimodo</text>
<text x="1505" y="341.6" font-size="13" fill="#3d9ad6" font-weight="normal" text-anchor="start" textLength="47" lengthAdjust="spacingAndGlyphs" >support</text>
<text x="1489.8" y="384.6" font-size="13" fill="#3d9ad6" font-weight="normal" text-anchor="start" textLength="115.5" lengthAdjust="spacingAndGlyphs" >17th May 2020 low</text>
<text x="915" y="18.5" font-size="14" fill="#222" font-weight="normal" text-anchor="start" textLength="17.5" lengthAdjust="spacingAndGlyphs" >H4</text>
</g>
<rect x="1750" y="0" width="1" height="421" fill="#3a3a3a" />
<rect x="910" y="393.2" width="902" height="1.2" fill="#3a3a3a" />
<text x="1758" y="15.5" font-size="11" fill="#4f4f4f" font-weight="normal" text-anchor="start" textLength="20" lengthAdjust="spacingAndGlyphs" >USD</text>
<text x="1760" y="37.8" font-size="11.5" fill="#4f4f4f" font-weight="normal" text-anchor="start" textLength="42.5" lengthAdjust="spacingAndGlyphs" >1.31000</text>
<text x="1760" y="72.5" font-size="11.5" fill="#4f4f4f" font-weight="normal" text-anchor="start" textLength="42.5" lengthAdjust="spacingAndGlyphs" >1.30000</text>
<text x="1760" y="107.4" font-size="11.5" fill="#4f4f4f" font-weight="normal" text-anchor="start" textLength="42.5" lengthAdjust="spacingAndGlyphs" >1.29000</text>
<text x="1760" y="141.6" font-size="11.5" fill="#4f4f4f" font-weight="normal" text-anchor="start" textLength="42.5" lengthAdjust="spacingAndGlyphs" >1.28000</text>
<text x="1760" y="176.6" font-size="11.5" fill="#4f4f4f" font-weight="normal" text-anchor="start" textLength="42.5" lengthAdjust="spacingAndGlyphs" >1.27000</text>
<text x="1760" y="279.7" font-size="11.5" fill="#4f4f4f" font-weight="normal" text-anchor="start" textLength="42.5" lengthAdjust="spacingAndGlyphs" >1.24000</text>
<text x="1760" y="314.6" font-size="11.5" fill="#4f4f4f" font-weight="normal" text-anchor="start" textLength="42.5" lengthAdjust="spacingAndGlyphs" >1.23000</text>
<text x="1760" y="349.4" font-size="11.5" fill="#4f4f4f" font-weight="normal" text-anchor="start" textLength="42.5" lengthAdjust="spacingAndGlyphs" >1.22000</text>
<text x="1760" y="384.1" font-size="11.5" fill="#4f4f4f" font-weight="normal" text-anchor="start" textLength="42.5" lengthAdjust="spacingAndGlyphs" >1.21000</text>
<rect x="1750" y="181.6" width="58" height="16" rx="2" ry="2" fill="#f23645" shape-rendering="auto"/>
<text x="1760.5" y="193.9" font-size="12" fill="#fff" font-weight="bold" text-anchor="start" textLength="42.5" lengthAdjust="spacingAndGlyphs" >1.26500</text>
<rect x="1750" y="194.6" width="58" height="16" rx="2" ry="2" fill="#f23645" shape-rendering="auto"/>
<text x="1760.5" y="206.9" font-size="12" fill="#fff" font-weight="bold" text-anchor="start" textLength="42.5" lengthAdjust="spacingAndGlyphs" >1.26140</text>
<rect x="1748.5" y="236.1" width="62" height="17" fill="#fff" />
<text x="1760" y="248.7" font-size="11.5" fill="#111" font-weight="normal" text-anchor="start" textLength="42.5" lengthAdjust="spacingAndGlyphs" >1.24914</text>
<rect x="1750" y="342.6" width="58" height="16" rx="2" ry="2" fill="#2962ff" shape-rendering="auto"/>
<text x="1760.5" y="354.9" font-size="12" fill="#fff" font-weight="bold" text-anchor="start" textLength="42.5" lengthAdjust="spacingAndGlyphs" >1.21860</text>
<rect x="1750" y="380.4" width="58" height="16" rx="2" ry="2" fill="#2962ff" shape-rendering="auto"/>
<text x="1760.5" y="392.7" font-size="12" fill="#fff" font-weight="bold" text-anchor="start" textLength="42.5" lengthAdjust="spacingAndGlyphs" >1.20750</text>
<text x="978.3" y="411" font-size="12" fill="#4f4f4f" font-weight="normal" text-anchor="middle" >25</text>
<text x="1074" y="411" font-size="12" fill="#4d4d4d" font-weight="bold" text-anchor="middle" >May</text>
<text x="1174.8" y="411" font-size="12" fill="#4f4f4f" font-weight="normal" text-anchor="middle" >9</text>
<text x="1273.7" y="411" font-size="12" fill="#4f4f4f" font-weight="normal" text-anchor="middle" >16</text>
<text x="1372" y="411" font-size="12" fill="#4f4f4f" font-weight="normal" text-anchor="middle" >23</text>
<text x="1509.3" y="411" font-size="12" fill="#4f4f4f" font-weight="normal" text-anchor="middle" >Jun</text>
<text x="1667" y="411" font-size="12" fill="#4f4f4f" font-weight="normal" text-anchor="middle" >13</text>
<clipPath id="cp1"><rect x="910" y="395" width="840" height="26"/></clipPath>
<text x="1733.5" y="411" font-size="12" fill="#4f4f4f" font-weight="normal" text-anchor="start" clip-path="url(#cp1)">06:00</text>
<g id="bl">
<path fill="none" stroke="#4ba6df" stroke-width="1.15" shape-rendering="auto" d="M0,446.5 C11.0,447.4 43.9,450.2 66.0,452.0 C88.1,453.8 111.8,455.5 132.5,457.0 C153.2,458.5 170.4,459.5 190.0,461.0 C209.6,462.5 233.8,464.0 250.0,465.8 C266.2,467.6 274.5,469.6 287.0,472.0 C299.5,474.4 309.5,477.4 325.0,480.0 C340.5,482.6 363.2,485.0 380.0,487.3 C396.8,489.6 413.8,492.2 426.0,494.0 C438.2,495.8 443.5,496.3 453.0,498.2 C462.5,500.1 472.7,502.6 483.0,505.5 C493.3,508.4 509.7,513.7 515.0,515.3"/>
<polygon points="443.6,630.7 540.8,603.1 540.8,633 443.6,660" fill="#fffcee"/>
<rect x="0" y="606" width="841" height="1" fill="#c5585a" />
<rect x="0" y="720" width="841" height="1" fill="#3e6fa8" />
<line x1="443.6" y1="630.7" x2="540.8" y2="603.1" stroke="#cf5350" stroke-width="1" shape-rendering="auto"/>
<line x1="443.6" y1="660" x2="540.8" y2="633" stroke="#cf5350" stroke-width="1" shape-rendering="auto"/>
<rect x="1" y="516" width="1" height="14" fill="#000" />
<rect x="0" y="524" width="3" height="3" fill="#000" />
<rect x="5" y="520" width="1" height="10" fill="#000" />
<rect x="4" y="525" width="3" height="3" fill="#000" />
<rect x="5" y="526" width="1" height="1" fill="#fff" />
<rect x="9" y="523" width="1" height="15" fill="#000" />
<rect x="8" y="525" width="3" height="11" fill="#000" />
<rect x="13" y="527" width="1" height="13" fill="#000" />
<rect x="12" y="530" width="3" height="8" fill="#000" />
<rect x="17" y="526" width="1" height="12" fill="#000" />
<rect x="16" y="530" width="3" height="3" fill="#000" />
<rect x="17" y="531" width="1" height="1" fill="#fff" />
<rect x="22" y="530" width="1" height="15" fill="#000" />
<rect x="21" y="533" width="3" height="7" fill="#000" />
<rect x="26" y="536" width="1" height="7" fill="#000" />
<rect x="25" y="538" width="3" height="2" fill="#000" />
<rect x="30" y="528" width="1" height="14" fill="#000" />
<rect x="29" y="530" width="3" height="8" fill="#000" />
<rect x="30" y="531" width="1" height="6" fill="#fff" />
<rect x="34" y="529" width="1" height="10" fill="#000" />
<rect x="33" y="530" width="3" height="7" fill="#000" />
<rect x="38" y="532" width="1" height="9" fill="#000" />
<rect x="37" y="536" width="3" height="2" fill="#000" />
<rect x="43" y="527" width="1" height="17" fill="#000" />
<rect x="42" y="532" width="3" height="4" fill="#000" />
<rect x="43" y="533" width="1" height="2" fill="#fff" />
<rect x="47" y="513" width="1" height="21" fill="#000" />
<rect x="46" y="521" width="3" height="11" fill="#000" />
<rect x="47" y="522" width="1" height="9" fill="#fff" />
<rect x="51" y="518" width="1" height="17" fill="#000" />
<rect x="50" y="521" width="3" height="13" fill="#000" />
<rect x="55" y="532" width="1" height="12" fill="#000" />
<rect x="54" y="534" width="3" height="5" fill="#000" />
<rect x="59" y="530" width="1" height="11" fill="#000" />
<rect x="58" y="531" width="3" height="8" fill="#000" />
<rect x="59" y="532" width="1" height="6" fill="#fff" />
<rect x="64" y="515" width="1" height="19" fill="#000" />
<rect x="63" y="516" width="3" height="16" fill="#000" />
<rect x="64" y="517" width="1" height="14" fill="#fff" />
<rect x="68" y="503" width="1" height="15" fill="#000" />
<rect x="67" y="508" width="3" height="9" fill="#000" />
<rect x="68" y="509" width="1" height="7" fill="#fff" />
<rect x="72" y="506" width="1" height="7" fill="#000" />
<rect x="71" y="509" width="3" height="2" fill="#000" />
<rect x="76" y="502" width="1" height="10" fill="#000" />
<rect x="75" y="503" width="3" height="8" fill="#000" />
<rect x="76" y="504" width="1" height="6" fill="#fff" />
<rect x="81" y="501" width="1" height="5" fill="#000" />
<rect x="80" y="502" width="3" height="3" fill="#000" />
<rect x="85" y="495" width="1" height="13" fill="#000" />
<rect x="84" y="496" width="3" height="10" fill="#000" />
<rect x="85" y="497" width="1" height="8" fill="#fff" />
<rect x="89" y="493" width="1" height="7" fill="#000" />
<rect x="88" y="494" width="3" height="2" fill="#000" />
<rect x="93" y="486" width="1" height="12" fill="#000" />
<rect x="92" y="490" width="3" height="4" fill="#000" />
<rect x="93" y="491" width="1" height="2" fill="#fff" />
<rect x="97" y="488" width="1" height="15" fill="#000" />
<rect x="96" y="490" width="3" height="8" fill="#000" />
<rect x="102" y="485" width="1" height="15" fill="#000" />
<rect x="101" y="490" width="3" height="8" fill="#000" />
<rect x="102" y="491" width="1" height="6" fill="#fff" />
<rect x="106" y="480" width="1" height="12" fill="#000" />
<rect x="105" y="486" width="3" height="4" fill="#000" />
<rect x="106" y="487" width="1" height="2" fill="#fff" />
<rect x="110" y="485" width="1" height="9" fill="#000" />
<rect x="109" y="486" width="3" height="3" fill="#000" />
<rect x="114" y="480" width="1" height="10" fill="#000" />
<rect x="113" y="482" width="3" height="7" fill="#000" />
<rect x="114" y="483" width="1" height="5" fill="#fff" />
<rect x="118" y="478" width="1" height="10" fill="#000" />
<rect x="117" y="480" width="3" height="2" fill="#000" />
<rect x="123" y="472" width="1" height="11" fill="#000" />
<rect x="122" y="473" width="3" height="9" fill="#000" />
<rect x="123" y="474" width="1" height="7" fill="#fff" />
<rect x="127" y="462" width="1" height="13" fill="#000" />
<rect x="126" y="464" width="3" height="10" fill="#000" />
<rect x="127" y="465" width="1" height="8" fill="#fff" />
<rect x="131" y="456" width="1" height="10" fill="#000" />
<rect x="130" y="462" width="3" height="2" fill="#000" />
<rect x="135" y="457" width="1" height="13" fill="#000" />
<rect x="134" y="462" width="3" height="7" fill="#000" />
<rect x="140" y="466" width="1" height="7" fill="#000" />
<rect x="139" y="468" width="3" height="4" fill="#000" />
<rect x="144" y="470" width="1" height="12" fill="#000" />
<rect x="143" y="472" width="3" height="8" fill="#000" />
<rect x="148" y="471" width="1" height="10" fill="#000" />
<rect x="147" y="478" width="3" height="2" fill="#000" />
<rect x="152" y="469" width="1" height="12" fill="#000" />
<rect x="151" y="478" width="3" height="2" fill="#000" />
<rect x="156" y="478" width="1" height="10" fill="#000" />
<rect x="155" y="479" width="3" height="7" fill="#000" />
<rect x="161" y="484" width="1" height="18" fill="#000" />
<rect x="160" y="486" width="3" height="10" fill="#000" />
<rect x="165" y="492" width="1" height="11" fill="#000" />
<rect x="164" y="494" width="3" height="2" fill="#000" />
<rect x="169" y="491" width="1" height="11" fill="#000" />
<rect x="168" y="494" width="3" height="7" fill="#000" />
<rect x="173" y="499" width="1" height="17" fill="#000" />
<rect x="172" y="500" width="3" height="12" fill="#000" />
<rect x="177" y="503" width="1" height="11" fill="#000" />
<rect x="176" y="511" width="3" height="1" fill="#000" />
<rect x="182" y="501" width="1" height="11" fill="#000" />
<rect x="181" y="502" width="3" height="9" fill="#000" />
<rect x="182" y="503" width="1" height="7" fill="#fff" />
<rect x="186" y="489" width="1" height="15" fill="#000" />
<rect x="185" y="490" width="3" height="12" fill="#000" />
<rect x="186" y="491" width="1" height="10" fill="#fff" />
<rect x="190" y="481" width="1" height="12" fill="#000" />
<rect x="189" y="482" width="3" height="10" fill="#000" />
<rect x="190" y="483" width="1" height="8" fill="#fff" />
<rect x="194" y="474" width="1" height="13" fill="#000" />
<rect x="193" y="480" width="3" height="2" fill="#000" />
<rect x="199" y="476" width="1" height="16" fill="#000" />
<rect x="198" y="480" width="3" height="11" fill="#000" />
<rect x="203" y="486" width="1" height="8" fill="#000" />
<rect x="202" y="487" width="3" height="2" fill="#000" />
<rect x="207" y="484" width="1" height="8" fill="#000" />
<rect x="206" y="488" width="3" height="1" fill="#000" />
<rect x="211" y="481" width="1" height="9" fill="#000" />
<rect x="210" y="488" width="3" height="2" fill="#000" />
<rect x="215" y="472" width="1" height="18" fill="#000" />
<rect x="214" y="487" width="3" height="2" fill="#000" />
<rect x="220" y="476" width="1" height="16" fill="#000" />
<rect x="219" y="486" width="3" height="2" fill="#000" />
<rect x="224" y="483" width="1" height="11" fill="#000" />
<rect x="223" y="486" width="3" height="5" fill="#000" />
<rect x="228" y="486" width="1" height="10" fill="#000" />
<rect x="227" y="488" width="3" height="2" fill="#000" />
<rect x="232" y="478" width="1" height="13" fill="#000" />
<rect x="231" y="482" width="3" height="8" fill="#000" />
<rect x="232" y="483" width="1" height="6" fill="#fff" />
<rect x="237" y="473" width="1" height="10" fill="#000" />
<rect x="236" y="476" width="3" height="6" fill="#000" />
<rect x="237" y="477" width="1" height="4" fill="#fff" />
<rect x="241" y="472" width="1" height="11" fill="#000" />
<rect x="240" y="476" width="3" height="6" fill="#000" />
<rect x="245" y="473" width="1" height="9" fill="#000" />
<rect x="244" y="479" width="3" height="3" fill="#000" />
<rect x="245" y="480" width="1" height="1" fill="#fff" />
<rect x="249" y="478" width="1" height="10" fill="#000" />
<rect x="248" y="480" width="3" height="3" fill="#000" />
<rect x="253" y="475" width="1" height="13" fill="#000" />
<rect x="252" y="482" width="3" height="6" fill="#000" />
<rect x="258" y="486" width="1" height="42" fill="#000" />
<rect x="257" y="487" width="3" height="26" fill="#000" />
<rect x="262" y="503" width="1" height="11" fill="#000" />
<rect x="261" y="508" width="3" height="5" fill="#000" />
<rect x="262" y="509" width="1" height="3" fill="#fff" />
<rect x="266" y="504" width="1" height="20" fill="#000" />
<rect x="265" y="507" width="3" height="16" fill="#000" />
<rect x="266" y="508" width="1" height="14" fill="#fff" />
<rect x="270" y="503" width="1" height="22" fill="#000" />
<rect x="269" y="507" width="3" height="16" fill="#000" />
<rect x="274" y="507" width="1" height="21" fill="#000" />
<rect x="273" y="508" width="3" height="14" fill="#000" />
<rect x="274" y="509" width="1" height="12" fill="#fff" />
<rect x="279" y="506" width="1" height="16" fill="#000" />
<rect x="278" y="508" width="3" height="9" fill="#000" />
<rect x="283" y="515" width="1" height="24" fill="#000" />
<rect x="282" y="516" width="3" height="22" fill="#000" />
<rect x="287" y="534" width="1" height="22" fill="#000" />
<rect x="286" y="537" width="3" height="17" fill="#000" />
<rect x="291" y="548" width="1" height="10" fill="#000" />
<rect x="290" y="554" width="3" height="2" fill="#000" />
<rect x="296" y="542" width="1" height="15" fill="#000" />
<rect x="295" y="543" width="3" height="13" fill="#000" />
<rect x="296" y="544" width="1" height="11" fill="#fff" />
<rect x="300" y="540" width="1" height="18" fill="#000" />
<rect x="299" y="543" width="3" height="14" fill="#000" />
<rect x="304" y="552" width="1" height="14" fill="#000" />
<rect x="303" y="557" width="3" height="8" fill="#000" />
<rect x="308" y="558" width="1" height="13" fill="#000" />
<rect x="307" y="564" width="3" height="6" fill="#000" />
<rect x="312" y="558" width="1" height="13" fill="#000" />
<rect x="311" y="564" width="3" height="6" fill="#000" />
<rect x="312" y="565" width="1" height="4" fill="#fff" />
<rect x="317" y="546" width="1" height="20" fill="#000" />
<rect x="316" y="548" width="3" height="17" fill="#000" />
<rect x="317" y="549" width="1" height="15" fill="#fff" />
<rect x="321" y="538" width="1" height="16" fill="#000" />
<rect x="320" y="547" width="3" height="2" fill="#000" />
<rect x="325" y="540" width="1" height="12" fill="#000" />
<rect x="324" y="543" width="3" height="5" fill="#000" />
<rect x="325" y="544" width="1" height="3" fill="#fff" />
<rect x="329" y="540" width="1" height="11" fill="#000" />
<rect x="328" y="544" width="3" height="2" fill="#000" />
<rect x="333" y="528" width="1" height="24" fill="#000" />
<rect x="332" y="530" width="3" height="15" fill="#000" />
<rect x="333" y="531" width="1" height="13" fill="#fff" />
<rect x="338" y="525" width="1" height="16" fill="#000" />
<rect x="337" y="530" width="3" height="10" fill="#000" />
<rect x="342" y="536" width="1" height="9" fill="#000" />
<rect x="341" y="538" width="3" height="4" fill="#000" />
<rect x="346" y="536" width="1" height="10" fill="#000" />
<rect x="345" y="542" width="3" height="2" fill="#000" />
<rect x="350" y="542" width="1" height="18" fill="#000" />
<rect x="349" y="543" width="3" height="16" fill="#000" />
<rect x="355" y="550" width="1" height="12" fill="#000" />
<rect x="354" y="556" width="3" height="3" fill="#000" />
<rect x="355" y="557" width="1" height="1" fill="#fff" />
<rect x="359" y="542" width="1" height="16" fill="#000" />
<rect x="358" y="551" width="3" height="5" fill="#000" />
<rect x="359" y="552" width="1" height="3" fill="#fff" />
<rect x="363" y="543" width="1" height="11" fill="#000" />
<rect x="362" y="550" width="3" height="2" fill="#000" />
<rect x="367" y="547" width="1" height="9" fill="#000" />
<rect x="366" y="550" width="3" height="3" fill="#000" />
<rect x="371" y="550" width="1" height="7" fill="#000" />
<rect x="370" y="553" width="3" height="3" fill="#000" />
<rect x="371" y="554" width="1" height="1" fill="#fff" />
<rect x="376" y="545" width="1" height="15" fill="#000" />
<rect x="375" y="552" width="3" height="7" fill="#000" />
<rect x="380" y="554" width="1" height="8" fill="#000" />
<rect x="379" y="558" width="3" height="3" fill="#000" />
<rect x="384" y="554" width="1" height="8" fill="#000" />
<rect x="383" y="558" width="3" height="2" fill="#000" />
<rect x="388" y="558" width="1" height="14" fill="#000" />
<rect x="387" y="559" width="3" height="6" fill="#000" />
<rect x="392" y="562" width="1" height="9" fill="#000" />
<rect x="391" y="564" width="3" height="2" fill="#000" />
<rect x="397" y="563" width="1" height="8" fill="#000" />
<rect x="396" y="566" width="3" height="4" fill="#000" />
<rect x="401" y="552" width="1" height="21" fill="#000" />
<rect x="400" y="552" width="3" height="18" fill="#000" />
<rect x="401" y="553" width="1" height="16" fill="#fff" />
<rect x="405" y="548" width="1" height="12" fill="#000" />
<rect x="404" y="552" width="3" height="7" fill="#000" />
<rect x="409" y="558" width="1" height="5" fill="#000" />
<rect x="408" y="560" width="3" height="2" fill="#000" />
<rect x="414" y="561" width="1" height="9" fill="#000" />
<rect x="413" y="564" width="3" height="5" fill="#000" />
<rect x="418" y="562" width="1" height="10" fill="#000" />
<rect x="417" y="570" width="3" height="2" fill="#000" />
<rect x="422" y="559" width="1" height="13" fill="#000" />
<rect x="421" y="560" width="3" height="11" fill="#000" />
<rect x="422" y="561" width="1" height="9" fill="#fff" />
<rect x="426" y="556" width="1" height="11" fill="#000" />
<rect x="425" y="560" width="3" height="6" fill="#000" />
<rect x="430" y="564" width="1" height="34" fill="#000" />
<rect x="429" y="565" width="3" height="32" fill="#000" />
<rect x="435" y="594" width="1" height="22" fill="#000" />
<rect x="434" y="595" width="3" height="16" fill="#000" />
<rect x="439" y="605" width="1" height="32" fill="#000" />
<rect x="438" y="609" width="3" height="27" fill="#000" />
<rect x="443" y="631" width="1" height="15" fill="#000" />
<rect x="442" y="636" width="3" height="8" fill="#000" />
<rect x="447" y="638" width="1" height="21" fill="#000" />
<rect x="446" y="640" width="3" height="15" fill="#000" />
<rect x="452" y="629" width="1" height="26" fill="#000" />
<rect x="451" y="636" width="3" height="18" fill="#000" />
<rect x="452" y="637" width="1" height="16" fill="#fff" />
<rect x="456" y="632" width="1" height="18" fill="#000" />
<rect x="455" y="635" width="3" height="14" fill="#000" />
<rect x="460" y="641" width="1" height="10" fill="#000" />
<rect x="459" y="647" width="3" height="2" fill="#000" />
<rect x="464" y="625" width="1" height="29" fill="#000" />
<rect x="463" y="628" width="3" height="20" fill="#000" />
<rect x="464" y="629" width="1" height="18" fill="#fff" />
<rect x="468" y="626" width="1" height="46" fill="#000" />
<rect x="467" y="628" width="3" height="41" fill="#000" />
<rect x="473" y="665" width="1" height="15" fill="#000" />
<rect x="472" y="666" width="3" height="7" fill="#000" />
<rect x="477" y="662" width="1" height="20" fill="#000" />
<rect x="476" y="670" width="3" height="2" fill="#000" />
<rect x="481" y="665" width="1" height="13" fill="#000" />
<rect x="480" y="672" width="3" height="4" fill="#000" />
<rect x="485" y="662" width="1" height="24" fill="#000" />
<rect x="484" y="675" width="3" height="10" fill="#000" />
<rect x="489" y="684" width="1" height="14" fill="#000" />
<rect x="488" y="685" width="3" height="8" fill="#000" />
<rect x="494" y="682" width="1" height="16" fill="#000" />
<rect x="493" y="683" width="3" height="10" fill="#000" />
<rect x="494" y="684" width="1" height="8" fill="#fff" />
<rect x="498" y="673" width="1" height="16" fill="#000" />
<rect x="497" y="674" width="3" height="14" fill="#000" />
<rect x="498" y="675" width="1" height="12" fill="#fff" />
<rect x="502" y="648" width="1" height="27" fill="#000" />
<rect x="501" y="648" width="3" height="26" fill="#000" />
<rect x="502" y="649" width="1" height="24" fill="#fff" />
<rect x="506" y="647" width="1" height="27" fill="#000" />
<rect x="505" y="648" width="3" height="25" fill="#000" />
<rect x="511" y="644" width="1" height="28" fill="#000" />
<rect x="510" y="652" width="3" height="19" fill="#000" />
<rect x="511" y="653" width="1" height="17" fill="#fff" />
<rect x="515" y="647" width="1" height="8" fill="#000" />
<rect x="514" y="649" width="3" height="4" fill="#000" />
<rect x="515" y="650" width="1" height="2" fill="#fff" />
<text x="5.7" y="444.5" font-size="11.5" fill="#4f4f4f" font-weight="normal" text-anchor="start" textLength="15.5" lengthAdjust="spacingAndGlyphs" >MA</text>
<text x="29" y="444.5" font-size="11.5" fill="#4b9bd3" font-weight="normal" text-anchor="start" textLength="42" lengthAdjust="spacingAndGlyphs" >1.33575</text>
<text x="5" y="475" font-size="14" fill="#222" font-weight="normal" text-anchor="start" textLength="33" lengthAdjust="spacingAndGlyphs" >Daily</text>
<text x="339.8" y="649" font-size="13" fill="#3d9ad6" font-weight="normal" text-anchor="start" textLength="74" lengthAdjust="spacingAndGlyphs" >Bearish flag</text>
<text x="646.9" y="586" font-size="13" fill="#3d9ad6" font-weight="normal" text-anchor="start" textLength="125" lengthAdjust="spacingAndGlyphs" >Quasimodo support-</text>
<text x="646.9" y="599.7" font-size="13" fill="#3d9ad6" font-weight="normal" text-anchor="start" textLength="109" lengthAdjust="spacingAndGlyphs" >turned resistance</text>
<text x="685" y="712.8" font-size="13" fill="#3d9ad6" font-weight="normal" text-anchor="start" textLength="48" lengthAdjust="spacingAndGlyphs" >Support</text>
<rect x="0" y="740.5" width="841" height="47.7" fill="#f1edfa" />
<line x1="0" y1="740.5" x2="841" y2="740.5" stroke="#5a5a5a" stroke-width="1" stroke-dasharray="6 5"/>
<line x1="0" y1="764.5" x2="841" y2="764.5" stroke="#a9a9a9" stroke-width="1" stroke-dasharray="6 5"/>
<line x1="0" y1="788.2" x2="841" y2="788.2" stroke="#5a5a5a" stroke-width="1" stroke-dasharray="6 5"/>
<rect x="0" y="805" width="841" height="1" fill="#3e6fa8" />
<polyline fill="none" stroke="#8561c5" stroke-width="1.1" shape-rendering="auto" points="0.0,788.0 4.5,783.0 9.5,788.0 13.0,783.0 17.5,785.0 22.0,788.0 26.2,785.0 30.0,777.5 33.8,781.8 37.5,780.5 41.2,776.2 46.2,767.0 51.2,775.0 55.0,777.5 61.2,765.5 67.5,756.2 72.0,758.0 76.2,753.0 80.5,754.2 85.0,750.0 90.0,748.8 93.2,747.0 97.0,753.8 101.2,750.5 106.2,747.5 110.0,750.5 114.5,746.2 117.5,747.0 122.5,742.5 127.0,738.8 130.5,738.8 135.0,743.0 140.0,748.0 143.8,754.2 147.5,753.0 151.2,754.2 156.2,761.2 161.2,768.0 165.0,766.2 169.5,771.2 173.8,778.8 177.5,778.2 182.5,769.5 187.0,760.0 190.5,756.2 193.8,755.0 198.8,762.5 203.8,761.5 211.2,761.2 215.5,759.2 220.0,760.0 223.8,763.8 227.5,763.0 232.5,755.5 236.8,752.0 241.2,757.5 245.0,756.2 248.8,758.8 252.5,764.5 257.5,782.0 261.2,777.5 265.8,776.2 270.0,784.5 273.8,773.2 277.5,776.2 282.5,783.8 287.5,791.2 291.2,791.8 296.2,783.0 300.0,787.0 303.8,789.5 308.0,791.2 311.2,787.5 317.0,776.2 321.2,775.5 325.0,773.2 328.8,773.8 332.5,765.0 337.5,769.2 342.5,770.8 346.2,771.8 350.0,778.8 354.5,778.0 360.0,773.0 365.0,773.0 368.8,774.5 372.5,775.0 377.5,778.2 382.5,778.0 387.5,781.2 392.5,782.5 397.0,784.5 401.2,767.5 405.0,772.0 410.0,773.8 415.0,778.2 418.0,778.8 422.0,769.2 425.8,773.0 430.0,787.0 433.8,791.2 438.8,797.5 443.8,799.5 447.5,802.0 450.0,795.0 453.0,788.0 456.8,791.2 460.5,791.2 463.8,780.0 467.5,788.8 473.0,789.5 478.0,790.5 483.0,793.0 488.0,795.8 494.2,788.8 498.0,781.2 501.8,770.8 506.0,777.5 511.0,770.0 514.8,768.0"/>
<line x1="442" y1="803" x2="531" y2="788.5" stroke="#3f5fd0" stroke-width="2.2" stroke-dasharray="11 11" shape-rendering="auto"/>
<text x="6" y="743.8" font-size="11.5" fill="#4f4f4f" font-weight="normal" text-anchor="start" textLength="16" lengthAdjust="spacingAndGlyphs" >RSI</text>
<text x="30" y="743.8" font-size="11.5" fill="#8561c5" font-weight="normal" text-anchor="start" textLength="28" lengthAdjust="spacingAndGlyphs" >46.62</text>
<text x="546" y="786" font-size="13" fill="#3d9ad6" font-weight="normal" text-anchor="start" textLength="114" lengthAdjust="spacingAndGlyphs" >Bullish divergence</text>
<text x="689.8" y="803" font-size="13" fill="#3d9ad6" font-weight="normal" text-anchor="start" textLength="48" lengthAdjust="spacingAndGlyphs" >Support</text>
</g>
<rect x="841" y="426" width="1" height="418" fill="#111" />
<rect x="0" y="723.9" width="905" height="1.2" fill="#111" />
<rect x="0" y="816.6" width="905" height="1.2" fill="#3a3a3a" />
<text x="849" y="444" font-size="11" fill="#4f4f4f" font-weight="normal" text-anchor="start" textLength="20" lengthAdjust="spacingAndGlyphs" >USD</text>
<text x="850.5" y="482.3" font-size="11.5" fill="#4f4f4f" font-weight="normal" text-anchor="start" textLength="42.5" lengthAdjust="spacingAndGlyphs" >1.36000</text>
<text x="850.5" y="513.1" font-size="11.5" fill="#4f4f4f" font-weight="normal" text-anchor="start" textLength="42.5" lengthAdjust="spacingAndGlyphs" >1.34000</text>
<text x="850.5" y="543.4" font-size="11.5" fill="#4f4f4f" font-weight="normal" text-anchor="start" textLength="42.5" lengthAdjust="spacingAndGlyphs" >1.32000</text>
<text x="850.5" y="574.3" font-size="11.5" fill="#4f4f4f" font-weight="normal" text-anchor="start" textLength="42.5" lengthAdjust="spacingAndGlyphs" >1.30000</text>
<text x="850.5" y="604.9" font-size="11.5" fill="#4f4f4f" font-weight="normal" text-anchor="start" textLength="42.5" lengthAdjust="spacingAndGlyphs" >1.28000</text>
<text x="850.5" y="635.8" font-size="11.5" fill="#4f4f4f" font-weight="normal" text-anchor="start" textLength="42.5" lengthAdjust="spacingAndGlyphs" >1.26000</text>
<text x="850.5" y="666.1" font-size="11.5" fill="#4f4f4f" font-weight="normal" text-anchor="start" textLength="42.5" lengthAdjust="spacingAndGlyphs" >1.24000</text>
<text x="850.5" y="697" font-size="11.5" fill="#4f4f4f" font-weight="normal" text-anchor="start" textLength="42.5" lengthAdjust="spacingAndGlyphs" >1.22000</text>
<rect x="841" y="598.9" width="59" height="16" rx="2" ry="2" fill="#f23645" shape-rendering="auto"/>
<text x="851.5" y="611.2" font-size="12" fill="#fff" font-weight="bold" text-anchor="start" textLength="42.5" lengthAdjust="spacingAndGlyphs" >1.27620</text>
<rect x="839" y="639.9" width="62" height="17" fill="#fff" />
<text x="850.5" y="652.5" font-size="11.5" fill="#111" font-weight="normal" text-anchor="start" textLength="42.5" lengthAdjust="spacingAndGlyphs" >1.24914</text>
<clipPath id="cp2"><rect x="841" y="700" width="64" height="24"/></clipPath>
<g clip-path="url(#cp2)">
<rect x="841" y="712" width="59" height="16" rx="2" ry="2" fill="#2962ff" shape-rendering="auto"/>
<text x="851.5" y="724.3" font-size="12" fill="#fff" font-weight="bold" text-anchor="start" textLength="42.5" lengthAdjust="spacingAndGlyphs" >1.20180</text>
</g>
<text x="851" y="738.8" font-size="12" fill="#4f4f4f" font-weight="normal" text-anchor="start" textLength="29.5" lengthAdjust="spacingAndGlyphs" >75.00</text>
<text x="851" y="798.8" font-size="12" fill="#4f4f4f" font-weight="normal" text-anchor="start" textLength="29.5" lengthAdjust="spacingAndGlyphs" >25.00</text>
<rect x="841" y="797.8" width="46" height="16" rx="2" ry="2" fill="#2962ff" shape-rendering="auto"/>
<text x="852" y="810.1" font-size="12" fill="#fff" font-weight="bold" text-anchor="start" textLength="29" lengthAdjust="spacingAndGlyphs" >15.91</text>
<text x="1" y="833.8" font-size="12" fill="#4f4f4f" font-weight="normal" text-anchor="middle" >Dec</text>
<text x="97.5" y="833.8" font-size="12" fill="#4d4d4d" font-weight="bold" text-anchor="middle" >2022</text>
<text x="185.5" y="833.8" font-size="12" fill="#4f4f4f" font-weight="normal" text-anchor="middle" >Feb</text>
<text x="270" y="833.8" font-size="12" fill="#4f4f4f" font-weight="normal" text-anchor="middle" >Mar</text>
<text x="366.8" y="833.8" font-size="12" fill="#4f4f4f" font-weight="normal" text-anchor="middle" >Apr</text>
<text x="455" y="833.8" font-size="12" fill="#4f4f4f" font-weight="normal" text-anchor="middle" >May</text>
<text x="548" y="833.8" font-size="12" fill="#4f4f4f" font-weight="normal" text-anchor="middle" >Jun</text>
<text x="641" y="833.8" font-size="12" fill="#4f4f4f" font-weight="normal" text-anchor="middle" >Jul</text>
<text x="729.8" y="833.8" font-size="12" fill="#4f4f4f" font-weight="normal" text-anchor="middle" >Aug</text>
<text x="826" y="833.8" font-size="12" fill="#4f4f4f" font-weight="normal" text-anchor="middle" >Sep</text>
<g id="br">
<rect x="910" y="426" width="732" height="25" fill="#fee8c9" />
<rect x="910" y="426" width="732" height="1" fill="#e5a84b" />
<rect x="910" y="450" width="732" height="1" fill="#e5a84b" />
<rect x="1641" y="426" width="1" height="25" fill="#e5a84b" />
<rect x="1332" y="540" width="310" height="28" fill="#fee8c9" />
<rect x="1332" y="540" width="310" height="1" fill="#e5a84b" />
<rect x="1332" y="567" width="310" height="1" fill="#e5a84b" />
<rect x="1641" y="540" width="1" height="28" fill="#e5a84b" />
<rect x="1332" y="540" width="1" height="28" fill="#e5a84b" />
<rect x="910" y="572.9" width="840" height="1.2" fill="#111" />
<rect x="910" y="658.7" width="840" height="1.2" fill="#111" />
<rect x="910" y="746" width="840" height="1.2" fill="#111" />
<line x1="1052.5" y1="783.8" x2="1584.8" y2="471.4" stroke="#4069b8" stroke-width="1.1" shape-rendering="auto"/>
<rect x="911" y="582" width="1" height="45" fill="#000" />
<rect x="910" y="586" width="3" height="40" fill="#000" />
<rect x="914" y="621" width="1" height="29" fill="#000" />
<rect x="913" y="626" width="3" height="22" fill="#000" />
<rect x="917" y="638" width="1" height="33" fill="#000" />
<rect x="916" y="648" width="3" height="20" fill="#000" />
<rect x="920" y="665" width="1" height="26" fill="#000" />
<rect x="919" y="668" width="3" height="20" fill="#000" />
<rect x="923" y="672" width="1" height="17" fill="#000" />
<rect x="922" y="688" width="3" height="1" fill="#000" />
<rect x="926" y="688" width="1" height="25" fill="#000" />
<rect x="925" y="688" width="3" height="22" fill="#000" />
<rect x="929" y="705" width="1" height="8" fill="#000" />
<rect x="928" y="706" width="3" height="4" fill="#000" />
<rect x="929" y="707" width="1" height="2" fill="#fff" />
<rect x="932" y="701" width="1" height="7" fill="#000" />
<rect x="931" y="706" width="3" height="1" fill="#000" />
<rect x="935" y="701" width="1" height="5" fill="#000" />
<rect x="934" y="706" width="3" height="1" fill="#000" />
<rect x="938" y="703" width="1" height="17" fill="#000" />
<rect x="937" y="706" width="3" height="12" fill="#000" />
<rect x="941" y="704" width="1" height="19" fill="#000" />
<rect x="940" y="708" width="3" height="10" fill="#000" />
<rect x="941" y="709" width="1" height="8" fill="#fff" />
<rect x="944" y="706" width="1" height="12" fill="#000" />
<rect x="943" y="708" width="3" height="5" fill="#000" />
<rect x="947" y="707" width="1" height="30" fill="#000" />
<rect x="946" y="713" width="3" height="19" fill="#000" />
<rect x="950" y="718" width="1" height="14" fill="#000" />
<rect x="949" y="721" width="3" height="11" fill="#000" />
<rect x="950" y="722" width="1" height="9" fill="#fff" />
<rect x="953" y="718" width="1" height="23" fill="#000" />
<rect x="952" y="721" width="3" height="19" fill="#000" />
<rect x="956" y="733" width="1" height="16" fill="#000" />
<rect x="955" y="740" width="3" height="6" fill="#000" />
<rect x="959" y="728" width="1" height="32" fill="#000" />
<rect x="958" y="743" width="3" height="3" fill="#000" />
<rect x="959" y="744" width="1" height="1" fill="#fff" />
<rect x="962" y="728" width="1" height="35" fill="#000" />
<rect x="961" y="743" width="3" height="3" fill="#000" />
<rect x="965" y="741" width="1" height="26" fill="#000" />
<rect x="964" y="746" width="3" height="19" fill="#000" />
<rect x="968" y="746" width="1" height="31" fill="#000" />
<rect x="967" y="758" width="3" height="7" fill="#000" />
<rect x="968" y="759" width="1" height="5" fill="#fff" />
<rect x="971" y="729" width="1" height="30" fill="#000" />
<rect x="970" y="740" width="3" height="18" fill="#000" />
<rect x="971" y="741" width="1" height="16" fill="#fff" />
<rect x="974" y="730" width="1" height="29" fill="#000" />
<rect x="973" y="740" width="3" height="10" fill="#000" />
<rect x="977" y="705" width="1" height="50" fill="#000" />
<rect x="976" y="722" width="3" height="28" fill="#000" />
<rect x="977" y="723" width="1" height="26" fill="#fff" />
<rect x="980" y="711" width="1" height="39" fill="#000" />
<rect x="979" y="722" width="3" height="19" fill="#000" />
<rect x="983" y="718" width="1" height="33" fill="#000" />
<rect x="982" y="722" width="3" height="19" fill="#000" />
<rect x="983" y="723" width="1" height="17" fill="#fff" />
<rect x="986" y="708" width="1" height="42" fill="#000" />
<rect x="985" y="722" width="3" height="28" fill="#000" />
<rect x="989" y="729" width="1" height="28" fill="#000" />
<rect x="988" y="750" width="3" height="4" fill="#000" />
<rect x="992" y="747" width="1" height="22" fill="#000" />
<rect x="991" y="754" width="3" height="6" fill="#000" />
<rect x="995" y="760" width="1" height="9" fill="#000" />
<rect x="994" y="760" width="3" height="9" fill="#000" />
<rect x="998" y="748" width="1" height="21" fill="#000" />
<rect x="997" y="753" width="3" height="16" fill="#000" />
<rect x="998" y="754" width="1" height="14" fill="#fff" />
<rect x="1001" y="747" width="1" height="9" fill="#000" />
<rect x="1000" y="748" width="3" height="5" fill="#000" />
<rect x="1001" y="749" width="1" height="3" fill="#fff" />
<rect x="1004" y="745" width="1" height="6" fill="#000" />
<rect x="1003" y="748" width="3" height="2" fill="#000" />
<rect x="1007" y="744" width="1" height="8" fill="#000" />
<rect x="1006" y="745" width="3" height="5" fill="#000" />
<rect x="1007" y="746" width="1" height="3" fill="#fff" />
<rect x="1010" y="740" width="1" height="8" fill="#000" />
<rect x="1009" y="742" width="3" height="3" fill="#000" />
<rect x="1010" y="743" width="1" height="1" fill="#fff" />
<rect x="1013" y="734" width="1" height="12" fill="#000" />
<rect x="1012" y="740" width="3" height="2" fill="#000" />
<rect x="1016" y="733" width="1" height="19" fill="#000" />
<rect x="1015" y="740" width="3" height="6" fill="#000" />
<rect x="1019" y="730" width="1" height="17" fill="#000" />
<rect x="1018" y="731" width="3" height="15" fill="#000" />
<rect x="1019" y="732" width="1" height="13" fill="#fff" />
<rect x="1022" y="723" width="1" height="10" fill="#000" />
<rect x="1021" y="730" width="3" height="1" fill="#000" />
<rect x="1025" y="724" width="1" height="11" fill="#000" />
<rect x="1024" y="726" width="3" height="4" fill="#000" />
<rect x="1025" y="727" width="1" height="2" fill="#fff" />
<rect x="1028" y="724" width="1" height="6" fill="#000" />
<rect x="1027" y="725" width="3" height="1" fill="#000" />
<rect x="1031" y="723" width="1" height="19" fill="#000" />
<rect x="1030" y="725" width="3" height="7" fill="#000" />
<rect x="1034" y="719" width="1" height="27" fill="#000" />
<rect x="1033" y="732" width="3" height="1" fill="#000" />
<rect x="1037" y="722" width="1" height="23" fill="#000" />
<rect x="1036" y="732" width="3" height="10" fill="#000" />
<rect x="1040" y="737" width="1" height="31" fill="#000" />
<rect x="1039" y="742" width="3" height="25" fill="#000" />
<rect x="1043" y="745" width="1" height="24" fill="#000" />
<rect x="1042" y="747" width="3" height="20" fill="#000" />
<rect x="1043" y="748" width="1" height="18" fill="#fff" />
<rect x="1046" y="732" width="1" height="26" fill="#000" />
<rect x="1045" y="747" width="3" height="6" fill="#000" />
<rect x="1049" y="739" width="1" height="21" fill="#000" />
<rect x="1048" y="753" width="3" height="1" fill="#000" />
<rect x="1052" y="753" width="1" height="31" fill="#000" />
<rect x="1051" y="754" width="3" height="16" fill="#000" />
<rect x="1055" y="727" width="1" height="47" fill="#000" />
<rect x="1054" y="729" width="3" height="41" fill="#000" />
<rect x="1055" y="730" width="1" height="39" fill="#fff" />
<rect x="1058" y="707" width="1" height="22" fill="#000" />
<rect x="1057" y="709" width="3" height="20" fill="#000" />
<rect x="1058" y="710" width="1" height="18" fill="#fff" />
<rect x="1061" y="703" width="1" height="13" fill="#000" />
<rect x="1060" y="709" width="3" height="7" fill="#000" />
<rect x="1064" y="704" width="1" height="20" fill="#000" />
<rect x="1063" y="716" width="3" height="7" fill="#000" />
<rect x="1067" y="709" width="1" height="19" fill="#000" />
<rect x="1066" y="710" width="3" height="13" fill="#000" />
<rect x="1067" y="711" width="1" height="11" fill="#fff" />
<rect x="1070" y="708" width="1" height="10" fill="#000" />
<rect x="1069" y="710" width="3" height="1" fill="#000" />
<rect x="1073" y="693" width="1" height="18" fill="#000" />
<rect x="1072" y="694" width="3" height="16" fill="#000" />
<rect x="1073" y="695" width="1" height="14" fill="#fff" />
<rect x="1076" y="693" width="1" height="12" fill="#000" />
<rect x="1075" y="694" width="3" height="11" fill="#000" />
<rect x="1079" y="689" width="1" height="19" fill="#000" />
<rect x="1078" y="701" width="3" height="4" fill="#000" />
<rect x="1079" y="702" width="1" height="2" fill="#fff" />
<rect x="1082" y="691" width="1" height="12" fill="#000" />
<rect x="1081" y="696" width="3" height="5" fill="#000" />
<rect x="1082" y="697" width="1" height="3" fill="#fff" />
<rect x="1085" y="685" width="1" height="13" fill="#000" />
<rect x="1084" y="686" width="3" height="10" fill="#000" />
<rect x="1085" y="687" width="1" height="8" fill="#fff" />
<rect x="1088" y="663" width="1" height="29" fill="#000" />
<rect x="1087" y="686" width="3" height="5" fill="#000" />
<rect x="1091" y="690" width="1" height="19" fill="#000" />
<rect x="1090" y="691" width="3" height="12" fill="#000" />
<rect x="1093" y="703" width="1" height="14" fill="#000" />
<rect x="1092" y="703" width="3" height="13" fill="#000" />
<rect x="1096" y="703" width="1" height="13" fill="#000" />
<rect x="1095" y="715" width="3" height="1" fill="#000" />
<rect x="1099" y="700" width="1" height="15" fill="#000" />
<rect x="1098" y="706" width="3" height="9" fill="#000" />
<rect x="1099" y="707" width="1" height="7" fill="#fff" />
<rect x="1102" y="701" width="1" height="27" fill="#000" />
<rect x="1101" y="706" width="3" height="19" fill="#000" />
<rect x="1105" y="700" width="1" height="31" fill="#000" />
<rect x="1104" y="725" width="3" height="6" fill="#000" />
<rect x="1108" y="716" width="1" height="15" fill="#000" />
<rect x="1107" y="716" width="3" height="15" fill="#000" />
<rect x="1108" y="717" width="1" height="13" fill="#fff" />
<rect x="1111" y="709" width="1" height="21" fill="#000" />
<rect x="1110" y="716" width="3" height="5" fill="#000" />
<rect x="1114" y="686" width="1" height="36" fill="#000" />
<rect x="1113" y="689" width="3" height="32" fill="#000" />
<rect x="1114" y="690" width="1" height="30" fill="#fff" />
<rect x="1117" y="686" width="1" height="22" fill="#000" />
<rect x="1116" y="689" width="3" height="7" fill="#000" />
<rect x="1120" y="689" width="1" height="17" fill="#000" />
<rect x="1119" y="696" width="3" height="3" fill="#000" />
<rect x="1123" y="691" width="1" height="23" fill="#000" />
<rect x="1122" y="699" width="3" height="12" fill="#000" />
<rect x="1126" y="683" width="1" height="30" fill="#000" />
<rect x="1125" y="702" width="3" height="9" fill="#000" />
<rect x="1126" y="703" width="1" height="7" fill="#fff" />
<rect x="1129" y="686" width="1" height="28" fill="#000" />
<rect x="1128" y="686" width="3" height="16" fill="#000" />
<rect x="1129" y="687" width="1" height="14" fill="#fff" />
<rect x="1132" y="680" width="1" height="8" fill="#000" />
<rect x="1131" y="681" width="3" height="5" fill="#000" />
<rect x="1132" y="682" width="1" height="3" fill="#fff" />
<rect x="1135" y="674" width="1" height="9" fill="#000" />
<rect x="1134" y="675" width="3" height="6" fill="#000" />
<rect x="1135" y="676" width="1" height="4" fill="#fff" />
<rect x="1138" y="644" width="1" height="32" fill="#000" />
<rect x="1137" y="644" width="3" height="31" fill="#000" />
<rect x="1138" y="645" width="1" height="29" fill="#fff" />
<rect x="1141" y="634" width="1" height="12" fill="#000" />
<rect x="1140" y="642" width="3" height="2" fill="#000" />
<rect x="1144" y="636" width="1" height="9" fill="#000" />
<rect x="1143" y="641" width="3" height="1" fill="#000" />
<rect x="1147" y="637" width="1" height="6" fill="#000" />
<rect x="1146" y="641" width="3" height="1" fill="#000" />
<rect x="1150" y="635" width="1" height="7" fill="#000" />
<rect x="1149" y="639" width="3" height="3" fill="#000" />
<rect x="1150" y="640" width="1" height="1" fill="#fff" />
<rect x="1153" y="632" width="1" height="9" fill="#000" />
<rect x="1152" y="637" width="3" height="2" fill="#000" />
<rect x="1156" y="629" width="1" height="9" fill="#000" />
<rect x="1155" y="634" width="3" height="3" fill="#000" />
<rect x="1156" y="635" width="1" height="1" fill="#fff" />
<rect x="1159" y="626" width="1" height="10" fill="#000" />
<rect x="1158" y="631" width="3" height="3" fill="#000" />
<rect x="1159" y="632" width="1" height="1" fill="#fff" />
<rect x="1162" y="620" width="1" height="12" fill="#000" />
<rect x="1161" y="624" width="3" height="7" fill="#000" />
<rect x="1162" y="625" width="1" height="5" fill="#fff" />
<rect x="1165" y="622" width="1" height="8" fill="#000" />
<rect x="1164" y="624" width="3" height="4" fill="#000" />
<rect x="1168" y="619" width="1" height="11" fill="#000" />
<rect x="1167" y="624" width="3" height="4" fill="#000" />
<rect x="1168" y="625" width="1" height="2" fill="#fff" />
<rect x="1171" y="614" width="1" height="11" fill="#000" />
<rect x="1170" y="620" width="3" height="4" fill="#000" />
<rect x="1171" y="621" width="1" height="2" fill="#fff" />
<rect x="1174" y="582" width="1" height="38" fill="#000" />
<rect x="1173" y="586" width="3" height="34" fill="#000" />
<rect x="1174" y="587" width="1" height="32" fill="#fff" />
<rect x="1177" y="546" width="1" height="46" fill="#000" />
<rect x="1176" y="553" width="3" height="33" fill="#000" />
<rect x="1177" y="554" width="1" height="31" fill="#fff" />
<rect x="1180" y="501" width="1" height="54" fill="#000" />
<rect x="1179" y="507" width="3" height="46" fill="#000" />
<rect x="1180" y="508" width="1" height="44" fill="#fff" />
<rect x="1183" y="497" width="1" height="39" fill="#000" />
<rect x="1182" y="507" width="3" height="19" fill="#000" />
<rect x="1186" y="504" width="1" height="24" fill="#000" />
<rect x="1185" y="518" width="3" height="8" fill="#000" />
<rect x="1186" y="519" width="1" height="6" fill="#fff" />
<rect x="1189" y="488" width="1" height="35" fill="#000" />
<rect x="1188" y="501" width="3" height="17" fill="#000" />
<rect x="1189" y="502" width="1" height="15" fill="#fff" />
<rect x="1192" y="490" width="1" height="28" fill="#000" />
<rect x="1191" y="498" width="3" height="3" fill="#000" />
<rect x="1192" y="499" width="1" height="1" fill="#fff" />
<rect x="1195" y="496" width="1" height="34" fill="#000" />
<rect x="1194" y="498" width="3" height="10" fill="#000" />
<rect x="1198" y="502" width="1" height="21" fill="#000" />
<rect x="1197" y="508" width="3" height="5" fill="#000" />
<rect x="1201" y="500" width="1" height="22" fill="#000" />
<rect x="1200" y="513" width="3" height="1" fill="#000" />
<rect x="1204" y="500" width="1" height="18" fill="#000" />
<rect x="1203" y="505" width="3" height="8" fill="#000" />
<rect x="1204" y="506" width="1" height="6" fill="#fff" />
<rect x="1207" y="499" width="1" height="10" fill="#000" />
<rect x="1206" y="505" width="3" height="1" fill="#000" />
<rect x="1210" y="492" width="1" height="36" fill="#000" />
<rect x="1209" y="504" width="3" height="2" fill="#000" />
<rect x="1213" y="497" width="1" height="14" fill="#000" />
<rect x="1212" y="501" width="3" height="3" fill="#000" />
<rect x="1213" y="502" width="1" height="1" fill="#fff" />
<rect x="1216" y="491" width="1" height="13" fill="#000" />
<rect x="1215" y="494" width="3" height="7" fill="#000" />
<rect x="1216" y="495" width="1" height="5" fill="#fff" />
<rect x="1219" y="490" width="1" height="10" fill="#000" />
<rect x="1218" y="494" width="3" height="1" fill="#000" />
<rect x="1222" y="490" width="1" height="6" fill="#000" />
<rect x="1221" y="495" width="3" height="1" fill="#000" />
<rect x="1225" y="495" width="1" height="4" fill="#000" />
<rect x="1224" y="496" width="3" height="2" fill="#000" />
<rect x="1228" y="486" width="1" height="13" fill="#000" />
<rect x="1227" y="498" width="3" height="1" fill="#000" />
<rect x="1231" y="492" width="1" height="14" fill="#000" />
<rect x="1230" y="498" width="3" height="1" fill="#000" />
<rect x="1234" y="498" width="1" height="13" fill="#000" />
<rect x="1233" y="498" width="3" height="10" fill="#000" />
<rect x="1237" y="505" width="1" height="13" fill="#000" />
<rect x="1236" y="508" width="3" height="7" fill="#000" />
<rect x="1240" y="511" width="1" height="5" fill="#000" />
<rect x="1239" y="511" width="3" height="4" fill="#000" />
<rect x="1240" y="512" width="1" height="2" fill="#fff" />
<rect x="1243" y="491" width="1" height="22" fill="#000" />
<rect x="1242" y="494" width="3" height="17" fill="#000" />
<rect x="1243" y="495" width="1" height="15" fill="#fff" />
<rect x="1246" y="491" width="1" height="50" fill="#000" />
<rect x="1245" y="494" width="3" height="44" fill="#000" />
<rect x="1249" y="537" width="1" height="41" fill="#000" />
<rect x="1248" y="538" width="3" height="39" fill="#000" />
<rect x="1252" y="563" width="1" height="35" fill="#000" />
<rect x="1251" y="577" width="3" height="18" fill="#000" />
<rect x="1255" y="563" width="1" height="34" fill="#000" />
<rect x="1254" y="565" width="3" height="30" fill="#000" />
<rect x="1255" y="566" width="1" height="28" fill="#fff" />
<rect x="1258" y="553" width="1" height="22" fill="#000" />
<rect x="1257" y="565" width="3" height="9" fill="#000" />
<rect x="1261" y="556" width="1" height="20" fill="#000" />
<rect x="1260" y="557" width="3" height="17" fill="#000" />
<rect x="1261" y="558" width="1" height="15" fill="#fff" />
<rect x="1264" y="542" width="1" height="15" fill="#000" />
<rect x="1263" y="556" width="3" height="1" fill="#000" />
<rect x="1267" y="551" width="1" height="28" fill="#000" />
<rect x="1266" y="556" width="3" height="21" fill="#000" />
<rect x="1270" y="553" width="1" height="31" fill="#000" />
<rect x="1269" y="563" width="3" height="14" fill="#000" />
<rect x="1270" y="564" width="1" height="12" fill="#fff" />
<rect x="1273" y="559" width="1" height="21" fill="#000" />
<rect x="1272" y="563" width="3" height="16" fill="#000" />
<rect x="1276" y="576" width="1" height="19" fill="#000" />
<rect x="1275" y="579" width="3" height="9" fill="#000" />
<rect x="1279" y="586" width="1" height="24" fill="#000" />
<rect x="1278" y="588" width="3" height="21" fill="#000" />
<rect x="1282" y="602" width="1" height="19" fill="#000" />
<rect x="1281" y="609" width="3" height="11" fill="#000" />
<rect x="1285" y="619" width="1" height="7" fill="#000" />
<rect x="1284" y="620" width="3" height="4" fill="#000" />
<rect x="1288" y="617" width="1" height="17" fill="#000" />
<rect x="1287" y="624" width="3" height="3" fill="#000" />
<rect x="1291" y="619" width="1" height="11" fill="#000" />
<rect x="1290" y="627" width="3" height="1" fill="#000" />
<rect x="1294" y="611" width="1" height="16" fill="#000" />
<rect x="1293" y="613" width="3" height="14" fill="#000" />
<rect x="1294" y="614" width="1" height="12" fill="#fff" />
<rect x="1297" y="611" width="1" height="13" fill="#000" />
<rect x="1296" y="613" width="3" height="9" fill="#000" />
<rect x="1300" y="604" width="1" height="21" fill="#000" />
<rect x="1299" y="615" width="3" height="7" fill="#000" />
<rect x="1300" y="616" width="1" height="5" fill="#fff" />
<rect x="1303" y="612" width="1" height="13" fill="#000" />
<rect x="1302" y="615" width="3" height="7" fill="#000" />
<rect x="1306" y="598" width="1" height="24" fill="#000" />
<rect x="1305" y="600" width="3" height="22" fill="#000" />
<rect x="1306" y="601" width="1" height="20" fill="#fff" />
<rect x="1309" y="586" width="1" height="15" fill="#000" />
<rect x="1308" y="587" width="3" height="13" fill="#000" />
<rect x="1309" y="588" width="1" height="11" fill="#fff" />
<rect x="1312" y="578" width="1" height="14" fill="#000" />
<rect x="1311" y="586" width="3" height="1" fill="#000" />
<rect x="1315" y="580" width="1" height="26" fill="#000" />
<rect x="1314" y="586" width="3" height="19" fill="#000" />
<rect x="1318" y="595" width="1" height="27" fill="#000" />
<rect x="1317" y="605" width="3" height="15" fill="#000" />
<rect x="1321" y="585" width="1" height="42" fill="#000" />
<rect x="1320" y="587" width="3" height="33" fill="#000" />
<rect x="1321" y="588" width="1" height="31" fill="#fff" />
<rect x="1324" y="567" width="1" height="31" fill="#000" />
<rect x="1323" y="580" width="3" height="7" fill="#000" />
<rect x="1324" y="581" width="1" height="5" fill="#fff" />
<rect x="1327" y="573" width="1" height="25" fill="#000" />
<rect x="1326" y="574" width="3" height="6" fill="#000" />
<rect x="1327" y="575" width="1" height="4" fill="#fff" />
<rect x="1330" y="540" width="1" height="35" fill="#000" />
<rect x="1329" y="552" width="3" height="22" fill="#000" />
<rect x="1330" y="553" width="1" height="20" fill="#fff" />
<rect x="1333" y="540" width="1" height="27" fill="#000" />
<rect x="1332" y="545" width="3" height="7" fill="#000" />
<rect x="1333" y="546" width="1" height="5" fill="#fff" />
<rect x="1336" y="544" width="1" height="20" fill="#000" />
<rect x="1335" y="545" width="3" height="4" fill="#000" />
<rect x="1339" y="493" width="1" height="57" fill="#000" />
<rect x="1338" y="497" width="3" height="52" fill="#000" />
<rect x="1339" y="498" width="1" height="50" fill="#fff" />
<rect x="1342" y="475" width="1" height="35" fill="#000" />
<rect x="1341" y="493" width="3" height="4" fill="#000" />
<rect x="1342" y="494" width="1" height="2" fill="#fff" />
<rect x="1345" y="465" width="1" height="42" fill="#000" />
<rect x="1344" y="485" width="3" height="8" fill="#000" />
<rect x="1345" y="486" width="1" height="6" fill="#fff" />
<rect x="1348" y="471" width="1" height="23" fill="#000" />
<rect x="1347" y="485" width="3" height="3" fill="#000" />
<rect x="1351" y="478" width="1" height="20" fill="#000" />
<rect x="1350" y="481" width="3" height="7" fill="#000" />
<rect x="1351" y="482" width="1" height="5" fill="#fff" />
<rect x="1354" y="476" width="1" height="15" fill="#000" />
<rect x="1353" y="481" width="3" height="8" fill="#000" />
<rect x="1357" y="483" width="1" height="14" fill="#000" />
<rect x="1356" y="489" width="3" height="2" fill="#000" />
<rect x="1360" y="491" width="1" height="26" fill="#000" />
<rect x="1359" y="491" width="3" height="24" fill="#000" />
<rect x="1363" y="508" width="1" height="17" fill="#000" />
<rect x="1362" y="515" width="3" height="1" fill="#000" />
<rect x="1366" y="506" width="1" height="17" fill="#000" />
<rect x="1365" y="515" width="3" height="1" fill="#000" />
<rect x="1369" y="511" width="1" height="9" fill="#000" />
<rect x="1368" y="515" width="3" height="4" fill="#000" />
<rect x="1372" y="512" width="1" height="17" fill="#000" />
<rect x="1371" y="519" width="3" height="1" fill="#000" />
<rect x="1375" y="513" width="1" height="13" fill="#000" />
<rect x="1374" y="520" width="3" height="5" fill="#000" />
<rect x="1378" y="524" width="1" height="17" fill="#000" />
<rect x="1377" y="525" width="3" height="10" fill="#000" />
<rect x="1381" y="529" width="1" height="8" fill="#000" />
<rect x="1380" y="532" width="3" height="3" fill="#000" />
<rect x="1381" y="533" width="1" height="1" fill="#fff" />
<rect x="1384" y="523" width="1" height="13" fill="#000" />
<rect x="1383" y="526" width="3" height="6" fill="#000" />
<rect x="1384" y="527" width="1" height="4" fill="#fff" />
<rect x="1387" y="507" width="1" height="20" fill="#000" />
<rect x="1386" y="509" width="3" height="17" fill="#000" />
<rect x="1387" y="510" width="1" height="15" fill="#fff" />
<rect x="1390" y="489" width="1" height="22" fill="#000" />
<rect x="1389" y="508" width="3" height="1" fill="#000" />
<rect x="1393" y="493" width="1" height="26" fill="#000" />
<rect x="1392" y="508" width="3" height="1" fill="#000" />
<rect x="1396" y="496" width="1" height="26" fill="#000" />
<rect x="1395" y="498" width="3" height="11" fill="#000" />
<rect x="1396" y="499" width="1" height="9" fill="#fff" />
<rect x="1399" y="496" width="1" height="17" fill="#000" />
<rect x="1398" y="498" width="3" height="7" fill="#000" />
<rect x="1402" y="496" width="1" height="9" fill="#000" />
<rect x="1401" y="500" width="3" height="5" fill="#000" />
<rect x="1402" y="501" width="1" height="3" fill="#fff" />
<rect x="1405" y="499" width="1" height="15" fill="#000" />
<rect x="1404" y="500" width="3" height="13" fill="#000" />
<rect x="1408" y="504" width="1" height="16" fill="#000" />
<rect x="1407" y="505" width="3" height="8" fill="#000" />
<rect x="1408" y="506" width="1" height="6" fill="#fff" />
<rect x="1411" y="486" width="1" height="26" fill="#000" />
<rect x="1410" y="496" width="3" height="9" fill="#000" />
<rect x="1411" y="497" width="1" height="7" fill="#fff" />
<rect x="1414" y="495" width="1" height="25" fill="#000" />
<rect x="1413" y="496" width="3" height="21" fill="#000" />
<rect x="1417" y="491" width="1" height="37" fill="#000" />
<rect x="1416" y="496" width="3" height="21" fill="#000" />
<rect x="1417" y="497" width="1" height="19" fill="#fff" />
<rect x="1420" y="492" width="1" height="21" fill="#000" />
<rect x="1419" y="496" width="3" height="15" fill="#000" />
<rect x="1423" y="509" width="1" height="10" fill="#000" />
<rect x="1422" y="511" width="3" height="1" fill="#000" />
<rect x="1426" y="510" width="1" height="17" fill="#000" />
<rect x="1425" y="512" width="3" height="1" fill="#000" />
<rect x="1429" y="495" width="1" height="18" fill="#000" />
<rect x="1428" y="497" width="3" height="16" fill="#000" />
<rect x="1429" y="498" width="1" height="14" fill="#fff" />
<rect x="1432" y="489" width="1" height="15" fill="#000" />
<rect x="1431" y="495" width="3" height="2" fill="#000" />
<text x="914" y="469.5" font-size="14" fill="#222" font-weight="normal" text-anchor="start" textLength="16.5" lengthAdjust="spacingAndGlyphs" >H1</text>
<text x="1650" y="441.8" font-size="13" fill="#3d9ad6" font-weight="normal" text-anchor="start" textLength="40.6" lengthAdjust="spacingAndGlyphs" >Supply</text>
<text x="1647.5" y="451.6" font-size="9.5" fill="#111" font-weight="normal" text-anchor="start" textLength="67" lengthAdjust="spacingAndGlyphs" >$1.2569-1.2541</text>
<text x="1650" y="553.7" font-size="13" fill="#3d9ad6" font-weight="normal" text-anchor="start" textLength="88" lengthAdjust="spacingAndGlyphs" >Decision point</text>
<text x="1653.7" y="565.6" font-size="9.5" fill="#111" font-weight="normal" text-anchor="start" textLength="67" lengthAdjust="spacingAndGlyphs" >$1.2408-1.2437</text>
<text x="1237.5" y="697" font-size="13" fill="#3d9ad6" font-weight="normal" text-anchor="start" textLength="57.5" lengthAdjust="spacingAndGlyphs" >Trendline</text>
<text x="1237.5" y="711" font-size="13" fill="#3d9ad6" font-weight="normal" text-anchor="start" textLength="47" lengthAdjust="spacingAndGlyphs" >support</text>
</g>
<rect x="1750" y="426" width="1" height="418" fill="#3a3a3a" />
<rect x="910" y="816.9" width="902" height="1.2" fill="#3a3a3a" />
<text x="1758" y="443.7" font-size="11" fill="#4f4f4f" font-weight="normal" text-anchor="start" textLength="20" lengthAdjust="spacingAndGlyphs" >USD</text>
<text x="1760" y="491.1" font-size="11.5" fill="#4f4f4f" font-weight="normal" text-anchor="start" textLength="42.5" lengthAdjust="spacingAndGlyphs" >1.25000</text>
<text x="1760" y="533.7" font-size="11.5" fill="#4f4f4f" font-weight="normal" text-anchor="start" textLength="42.5" lengthAdjust="spacingAndGlyphs" >1.24500</text>
<text x="1760" y="620.6" font-size="11.5" fill="#4f4f4f" font-weight="normal" text-anchor="start" textLength="42.5" lengthAdjust="spacingAndGlyphs" >1.23500</text>
<text x="1760" y="706.5" font-size="11.5" fill="#4f4f4f" font-weight="normal" text-anchor="start" textLength="42.5" lengthAdjust="spacingAndGlyphs" >1.22500</text>
<text x="1760" y="793.6" font-size="11.5" fill="#4f4f4f" font-weight="normal" text-anchor="start" textLength="42.5" lengthAdjust="spacingAndGlyphs" >1.21500</text>
<rect x="1748.5" y="486.5" width="62" height="17" fill="#fff" />
<text x="1760" y="499.1" font-size="11.5" fill="#111" font-weight="normal" text-anchor="start" textLength="42.5" lengthAdjust="spacingAndGlyphs" >1.24914</text>
<rect x="1750" y="565.5" width="58" height="16" rx="2" ry="2" fill="#000" shape-rendering="auto"/>
<text x="1760.5" y="577.8" font-size="12" fill="#fff" font-weight="bold" text-anchor="start" textLength="42.5" lengthAdjust="spacingAndGlyphs" >1.24000</text>
<rect x="1750" y="651.3" width="58" height="16" rx="2" ry="2" fill="#000" shape-rendering="auto"/>
<text x="1760.5" y="663.6" font-size="12" fill="#fff" font-weight="bold" text-anchor="start" textLength="42.5" lengthAdjust="spacingAndGlyphs" >1.23000</text>
<rect x="1750" y="738.4" width="58" height="16" rx="2" ry="2" fill="#000" shape-rendering="auto"/>
<text x="1760.5" y="750.7" font-size="12" fill="#fff" font-weight="bold" text-anchor="start" textLength="42.5" lengthAdjust="spacingAndGlyphs" >1.22000</text>
<text x="974" y="834" font-size="12" fill="#4f4f4f" font-weight="normal" text-anchor="middle" >12:00</text>
<text x="1082" y="834" font-size="12" fill="#4f4f4f" font-weight="normal" text-anchor="middle" >16</text>
<text x="1225.8" y="834" font-size="12" fill="#4f4f4f" font-weight="normal" text-anchor="middle" >18</text>
<text x="1333.8" y="834" font-size="12" fill="#4f4f4f" font-weight="normal" text-anchor="middle" >12:00</text>
<text x="1441" y="834" font-size="12" fill="#4f4f4f" font-weight="normal" text-anchor="middle" >23</text>
<text x="1584.8" y="834" font-size="12" fill="#4f4f4f" font-weight="normal" text-anchor="middle" >25</text>
<text x="1728.6" y="834" font-size="12" fill="#4f4f4f" font-weight="normal" text-anchor="middle" >27</text>
<rect x="905" y="0" width="5" height="844" fill="#1e222d" />
<rect x="0" y="420.8" width="1812" height="5.2" fill="#1e222d" />
<g id="wm" shape-rendering="auto">
<defs><radialGradient id="rg" cx="0.6" cy="0.25" r="0.9"><stop offset="0" stop-color="#ee4a1c"/><stop offset="1" stop-color="#c9281e"/></radialGradient><linearGradient id="gg" x1="0" y1="0" x2="0" y2="1"><stop offset="0" stop-color="#fbd861"/><stop offset="1" stop-color="#f9a61f"/></linearGradient></defs>
<circle cx="1678.1" cy="794.3" r="22.4" fill="url(#rg)"/>
<path fill="url(#gg)" d="M1666.4,811.7 C1667.4,811.9 1670.6,813.1 1672.8,812.9 C1675.1,812.8 1677.5,812.1 1679.8,810.9 C1682.1,809.8 1684.9,807.8 1686.8,806.0 C1688.6,804.1 1690.0,801.8 1690.9,799.8 C1691.9,797.8 1692.4,795.8 1692.4,793.8 C1692.5,791.8 1692.0,789.5 1691.2,787.9 C1690.5,786.2 1689.1,784.8 1687.8,783.9 C1686.4,783.0 1684.5,783.0 1683.0,782.4 C1681.5,781.8 1680.5,780.4 1678.8,780.2 C1677.1,780.0 1674.5,780.4 1672.8,781.2 C1671.2,782.0 1669.8,783.6 1668.9,784.9 C1667.9,786.1 1667.8,787.4 1667.1,788.6 C1666.4,789.8 1665.0,790.6 1664.7,792.0 C1664.4,793.4 1664.5,795.6 1665.2,797.0 C1665.9,798.4 1667.4,799.7 1668.9,800.6 C1670.3,801.5 1672.0,802.3 1673.8,802.5 C1675.7,802.7 1678.2,802.5 1679.8,802.0 C1681.4,801.5 1683.0,799.8 1683.6,799.4 C1683.0,800.1 1682.0,802.2 1680.3,803.8 C1678.6,805.3 1675.7,807.4 1673.3,808.8 C1671.0,810.1 1667.5,811.2 1666.4,811.7 Z"/>
<path fill="none" stroke="#d8401d" stroke-width="2.5" stroke-linecap="round" d="M1683.6,799.6 C1683.8,799.0 1684.6,797.1 1684.7,796.0 C1684.7,794.9 1684.4,793.7 1683.9,792.8 C1683.3,792.0 1682.3,791.1 1681.4,790.7 C1680.4,790.4 1679.2,790.2 1678.2,790.5 C1677.2,790.9 1676.0,791.9 1675.5,792.8 C1675.0,793.7 1674.9,795.1 1675.2,796.0 C1675.6,796.9 1676.7,797.9 1677.5,798.1 C1678.3,798.3 1679.6,797.4 1680.0,797.2"/>
<text x="1706.3" y="803" font-size="31" fill="#a9a9a9" font-weight="900" text-anchor="start" textLength="91" lengthAdjust="spacingAndGlyphs" font-family='"Noto Serif CJK SC", "Liberation Serif", serif' opacity="0.95">中金网</text>
<text x="1706.5" y="815.8" font-size="9" fill="#a4a4a4" font-weight="normal" text-anchor="start" textLength="90.5" lengthAdjust="spacingAndGlyphs" >CNGOLD.COM.CN</text>
<text x="1658.4" y="830" font-size="11.5" fill="#a4a4a4" font-weight="normal" text-anchor="start" textLength="136" lengthAdjust="spacingAndGlyphs" font-family='"Liberation Sans", "Noto Sans CJK SC", sans-serif'>中 文 财 经 新 媒 体</text>
</g>
</svg>
</body></html>
